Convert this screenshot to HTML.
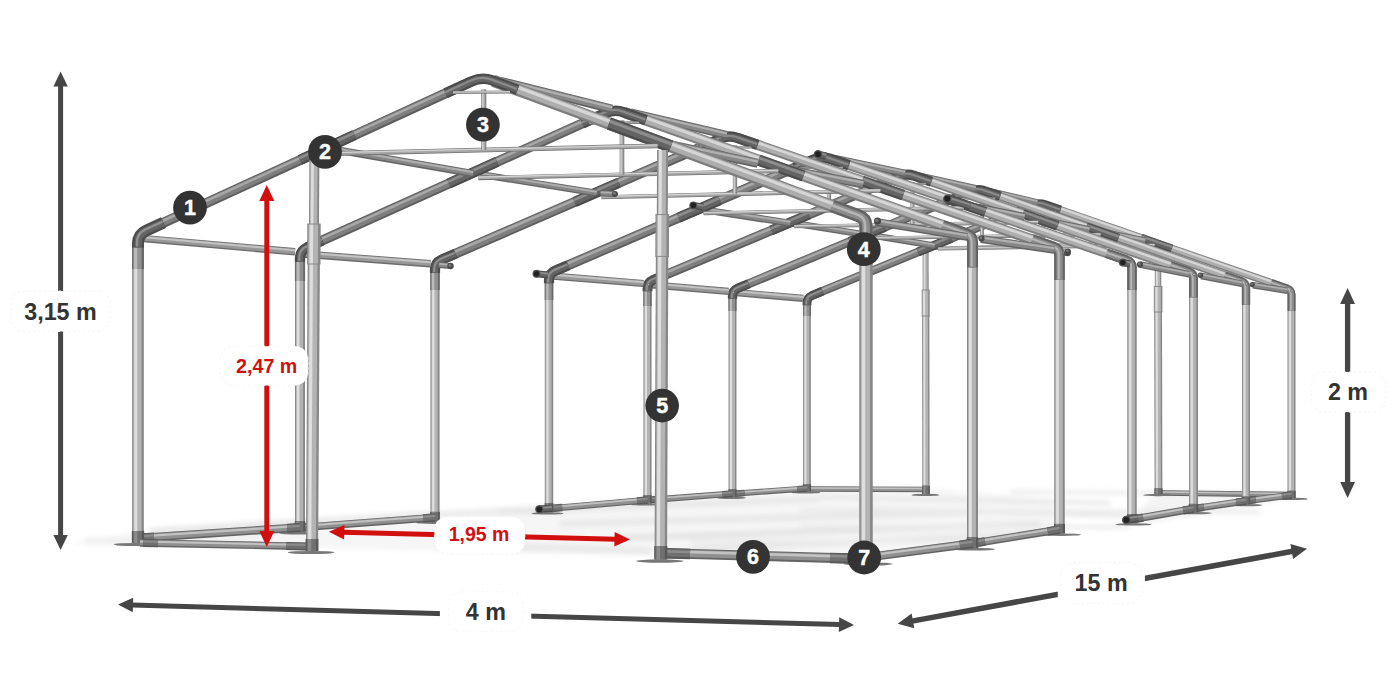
<!DOCTYPE html>
<html lang="pl"><head><meta charset="utf-8"><title>Namiot - wymiary</title>
<style>
html,body{margin:0;padding:0;background:#ffffff;}
body{width:1400px;height:700px;overflow:hidden;}
svg{display:block;font-family:"Liberation Sans",sans-serif;font-weight:700;}
</style></head><body>
<svg width="1400" height="700" viewBox="0 0 1400 700">
<defs><filter id="blur" x="-5%" y="-30%" width="110%" height="160%"><feGaussianBlur stdDeviation="2.5"/></filter></defs>
<rect width="1400" height="700" fill="#ffffff"/>
<g id="frame">
<g filter="url(#blur)">
<polygon points="70,544 138,532 435,512 560,503 806,486 930,488 1060,500 1062,526 870,556 655,556 320,548 140,547" fill="#f6f6f6"/>
<polygon points="1128,522 1158,492 1292,493 1296,498 1140,525" fill="#f4f4f4"/>
<line x1="85" y1="541" x2="260" y2="537" stroke="#efefef" stroke-width="6"/>
<line x1="150" y1="531" x2="440" y2="513" stroke="#e4e4e4" stroke-width="5"/>
<line x1="320" y1="520" x2="560" y2="508" stroke="#e9e9e9" stroke-width="5"/>
<line x1="500" y1="512" x2="820" y2="499" stroke="#e4e4e4" stroke-width="5"/>
<line x1="560" y1="524" x2="980" y2="512" stroke="#e6e6e6" stroke-width="6"/>
<line x1="620" y1="538" x2="1040" y2="524" stroke="#e3e3e3" stroke-width="6"/>
<line x1="690" y1="549" x2="1040" y2="534" stroke="#e6e6e6" stroke-width="6"/>
<line x1="820" y1="497" x2="1110" y2="503" stroke="#e6e6e6" stroke-width="4"/>
<line x1="860" y1="508" x2="1125" y2="516" stroke="#e8e8e8" stroke-width="4"/>
<line x1="480" y1="546" x2="650" y2="551" stroke="#e8e8e8" stroke-width="7"/>
<line x1="1010" y1="492" x2="1290" y2="494" stroke="#e6e6e6" stroke-width="3"/>
<line x1="800" y1="510" x2="1260" y2="512" stroke="#ebebeb" stroke-width="4"/>
<line x1="800" y1="526" x2="1130" y2="527" stroke="#ebebeb" stroke-width="4"/>
<line x1="690" y1="541" x2="960" y2="541" stroke="#ebebeb" stroke-width="4"/>
</g>
<line x1="810" y1="489" x2="924" y2="489.5" stroke="#636363" stroke-width="5.5" stroke-linecap="butt"/>
<line x1="810" y1="488.7" x2="924" y2="489.2" stroke="#909090" stroke-width="4" stroke-linecap="butt"/>
<line x1="810" y1="488" x2="924" y2="488.5" stroke="#c2c2c2" stroke-width="1.4" stroke-linecap="butt"/>
<line x1="1162" y1="493" x2="1290" y2="494.6" stroke="#636363" stroke-width="5.5" stroke-linecap="butt"/>
<line x1="1162" y1="492.7" x2="1290" y2="494.3" stroke="#909090" stroke-width="4" stroke-linecap="butt"/>
<line x1="1162" y1="492" x2="1290" y2="493.6" stroke="#c2c2c2" stroke-width="1.4" stroke-linecap="butt"/>
<line x1="925" y1="248.5" x2="1157" y2="242" stroke="#747474" stroke-width="3" stroke-linecap="butt"/>
<line x1="925" y1="248.4" x2="1157" y2="241.9" stroke="#a8a8a8" stroke-width="2.2" stroke-linecap="butt"/>
<line x1="925" y1="247.9" x2="1157" y2="241.4" stroke="#d4d4d4" stroke-width="0.8" stroke-linecap="butt"/>
<ellipse cx="925.4" cy="494.9" rx="13.9" ry="1.2" fill="#777"/>
<line x1="925.6" y1="247" x2="925.7" y2="291" stroke="#878787" stroke-width="6" stroke-linecap="butt"/>
<line x1="925.3" y1="247" x2="925.4" y2="291" stroke="#b3b3b3" stroke-width="4.3" stroke-linecap="butt"/>
<line x1="924.5" y1="247" x2="924.5" y2="291" stroke="#dedede" stroke-width="1.6" stroke-linecap="butt"/>
<line x1="925.7" y1="315" x2="926" y2="494" stroke="#878787" stroke-width="7.3" stroke-linecap="butt"/>
<line x1="925.3" y1="315" x2="925.6" y2="494" stroke="#b3b3b3" stroke-width="5.3" stroke-linecap="butt"/>
<line x1="924.3" y1="315" x2="924.6" y2="494" stroke="#dedede" stroke-width="1.9" stroke-linecap="butt"/>
<line x1="925.7" y1="290" x2="925.7" y2="316" stroke="#878787" stroke-width="8" stroke-linecap="butt"/>
<line x1="925.3" y1="290" x2="925.3" y2="316" stroke="#b3b3b3" stroke-width="5.8" stroke-linecap="butt"/>
<line x1="924.1" y1="290" x2="924.2" y2="316" stroke="#dedede" stroke-width="2.1" stroke-linecap="butt"/>
<line x1="921.7" y1="290" x2="929.7" y2="290" stroke="#8a8a8a" stroke-width="1"/>
<line x1="921.7" y1="316" x2="929.7" y2="316" stroke="#8a8a8a" stroke-width="1"/>
<line x1="926" y1="485.7" x2="926" y2="494" stroke="#585858" stroke-width="7.7" stroke-linecap="butt"/>
<line x1="925.6" y1="485.7" x2="925.6" y2="494" stroke="#707070" stroke-width="5.5" stroke-linecap="butt"/>
<line x1="924.5" y1="485.7" x2="924.5" y2="494" stroke="#8c8c8c" stroke-width="2" stroke-linecap="butt"/>
<ellipse cx="1157.8" cy="495" rx="14.8" ry="1.2" fill="#777"/>
<line x1="1158" y1="241" x2="1158.1" y2="287.5" stroke="#878787" stroke-width="6.5" stroke-linecap="butt"/>
<line x1="1157.7" y1="241" x2="1157.8" y2="287.5" stroke="#b3b3b3" stroke-width="4.7" stroke-linecap="butt"/>
<line x1="1156.8" y1="241" x2="1156.9" y2="287.5" stroke="#dedede" stroke-width="1.7" stroke-linecap="butt"/>
<line x1="1158.1" y1="311" x2="1158.5" y2="494" stroke="#878787" stroke-width="7.8" stroke-linecap="butt"/>
<line x1="1157.8" y1="311" x2="1158.1" y2="494" stroke="#b3b3b3" stroke-width="5.6" stroke-linecap="butt"/>
<line x1="1156.7" y1="311" x2="1157" y2="494" stroke="#dedede" stroke-width="2" stroke-linecap="butt"/>
<line x1="1158.1" y1="286.5" x2="1158.1" y2="312" stroke="#878787" stroke-width="8.6" stroke-linecap="butt"/>
<line x1="1157.7" y1="286.5" x2="1157.7" y2="312" stroke="#b3b3b3" stroke-width="6.2" stroke-linecap="butt"/>
<line x1="1156.5" y1="286.5" x2="1156.5" y2="312" stroke="#dedede" stroke-width="2.2" stroke-linecap="butt"/>
<line x1="1153.8" y1="286.5" x2="1162.4" y2="286.5" stroke="#8a8a8a" stroke-width="1"/>
<line x1="1153.8" y1="312" x2="1162.4" y2="312" stroke="#8a8a8a" stroke-width="1"/>
<line x1="1158.5" y1="488.4" x2="1158.5" y2="494" stroke="#585858" stroke-width="8.2" stroke-linecap="butt"/>
<line x1="1158.1" y1="488.4" x2="1158.1" y2="494" stroke="#707070" stroke-width="5.9" stroke-linecap="butt"/>
<line x1="1156.9" y1="488.4" x2="1156.9" y2="494" stroke="#8c8c8c" stroke-width="2.1" stroke-linecap="butt"/>
<ellipse cx="805.8" cy="492.4" rx="14.6" ry="1.2" fill="#777"/>
<ellipse cx="1292.7" cy="498.9" rx="15.2" ry="1.2" fill="#777"/>
<line x1="807" y1="301.1" x2="807" y2="491.5" stroke="#878787" stroke-width="7.7" stroke-linecap="butt"/>
<line x1="806.6" y1="301.1" x2="806.6" y2="491.5" stroke="#b3b3b3" stroke-width="5.5" stroke-linecap="butt"/>
<line x1="805.5" y1="301.1" x2="805.5" y2="491.5" stroke="#dedede" stroke-width="2" stroke-linecap="butt"/>
<line x1="807" y1="484.3" x2="807" y2="491.5" stroke="#585858" stroke-width="8.1" stroke-linecap="butt"/>
<line x1="806.6" y1="484.3" x2="806.6" y2="491.5" stroke="#707070" stroke-width="5.8" stroke-linecap="butt"/>
<line x1="805.5" y1="484.3" x2="805.5" y2="491.5" stroke="#8c8c8c" stroke-width="2.1" stroke-linecap="butt"/>
<line x1="1291.5" y1="293.6" x2="1291.5" y2="498" stroke="#878787" stroke-width="8" stroke-linecap="butt"/>
<line x1="1291.1" y1="293.6" x2="1291.1" y2="498" stroke="#b3b3b3" stroke-width="5.8" stroke-linecap="butt"/>
<line x1="1290" y1="293.6" x2="1290" y2="498" stroke="#dedede" stroke-width="2.1" stroke-linecap="butt"/>
<line x1="1291.5" y1="490.8" x2="1291.5" y2="498" stroke="#585858" stroke-width="8.4" stroke-linecap="butt"/>
<line x1="1291.1" y1="490.8" x2="1291.1" y2="498" stroke="#707070" stroke-width="6" stroke-linecap="butt"/>
<line x1="1289.9" y1="490.8" x2="1289.9" y2="498" stroke="#8c8c8c" stroke-width="2.2" stroke-linecap="butt"/>
<line x1="811.4" y1="295.7" x2="1032.3" y2="205.2" stroke="#5e5e5e" stroke-width="8.6" stroke-linecap="butt"/>
<line x1="811.3" y1="295.3" x2="1032.2" y2="204.8" stroke="#7f7f7f" stroke-width="6.2" stroke-linecap="butt"/>
<line x1="810.8" y1="294.2" x2="1031.7" y2="203.7" stroke="#a8a8a8" stroke-width="2.2" stroke-linecap="butt"/>
<line x1="1045.8" y1="204.9" x2="1287.5" y2="288.6" stroke="#7e7e7e" stroke-width="7.8" stroke-linecap="butt"/>
<line x1="1045.9" y1="204.5" x2="1287.7" y2="288.3" stroke="#adadad" stroke-width="5.6" stroke-linecap="butt"/>
<line x1="1046.3" y1="203.5" x2="1288" y2="287.2" stroke="#d6d6d6" stroke-width="2" stroke-linecap="butt"/>
<line x1="917.9" y1="252.1" x2="951.3" y2="238.4" stroke="#4b4b4b" stroke-width="8.9" stroke-linecap="butt"/>
<line x1="917.8" y1="251.7" x2="951.1" y2="238" stroke="#646464" stroke-width="6.4" stroke-linecap="butt"/>
<line x1="917.3" y1="250.5" x2="950.6" y2="236.9" stroke="#8c8c8c" stroke-width="2.3" stroke-linecap="butt"/>
<line x1="1141.2" y1="237.9" x2="1171.8" y2="248.5" stroke="#4b4b4b" stroke-width="8.1" stroke-linecap="butt"/>
<line x1="1141.3" y1="237.5" x2="1171.9" y2="248.1" stroke="#646464" stroke-width="5.8" stroke-linecap="butt"/>
<line x1="1141.7" y1="236.4" x2="1172.3" y2="247.1" stroke="#8c8c8c" stroke-width="2.1" stroke-linecap="butt"/>
<path d="M1016.8 211.6 L1032.9 205 Q1039 202.5 1045.2 204.7 L1060.5 210" fill="none" stroke="#4b4b4b" stroke-width="9" stroke-linejoin="round"/>
<path d="M1016.8 211.6 L1032.9 205 Q1039 202.5 1045.2 204.7 L1060.5 210" fill="none" stroke="#646464" stroke-width="5.4" stroke-linejoin="round"/>
<path d="M1016.8 211.6 L1032.9 205 Q1039 202.5 1045.2 204.7 L1060.5 210" fill="none" stroke="#8c8c8c" stroke-width="1.8" stroke-linejoin="round" transform="translate(-0.7,-0.7)"/>
<line x1="807" y1="302.3" x2="807" y2="316" stroke="#686868" stroke-width="7.9" stroke-linecap="butt"/>
<line x1="806.6" y1="302.3" x2="806.6" y2="316" stroke="#909090" stroke-width="5.7" stroke-linecap="butt"/>
<line x1="805.5" y1="302.3" x2="805.5" y2="316" stroke="#bababa" stroke-width="2" stroke-linecap="butt"/>
<path d="M807 305.3 L807 302.9 Q807 297.5 812 295.5 L822.5 291.1" fill="none" stroke="#4c4c4c" stroke-width="8.8" stroke-linejoin="round"/>
<path d="M807 305.3 L807 302.9 Q807 297.5 812 295.5 L822.5 291.1" fill="none" stroke="#646464" stroke-width="5.3" stroke-linejoin="round"/>
<path d="M807 305.3 L807 302.9 Q807 297.5 812 295.5 L822.5 291.1" fill="none" stroke="#909090" stroke-width="1.8" stroke-linejoin="round" transform="translate(-0.7,-0.7)"/>
<path d="M1291.5 311 L1291.5 294.5 Q1291.5 290 1287.2 288.5 L1271.1 282.9" fill="none" stroke="#646464" stroke-width="8" stroke-linejoin="round"/>
<path d="M1291.5 311 L1291.5 294.5 Q1291.5 290 1287.2 288.5 L1271.1 282.9" fill="none" stroke="#8c8c8c" stroke-width="4.8" stroke-linejoin="round"/>
<path d="M1291.5 311 L1291.5 294.5 Q1291.5 290 1287.2 288.5 L1271.1 282.9" fill="none" stroke="#b6b6b6" stroke-width="1.6" stroke-linejoin="round" transform="translate(-0.6,-0.6)"/>
<line x1="938.2" y1="248.8" x2="1154.6" y2="245.2" stroke="#747474" stroke-width="3.4" stroke-linecap="butt"/>
<line x1="938.2" y1="248.7" x2="1154.6" y2="245" stroke="#a8a8a8" stroke-width="2.5" stroke-linecap="butt"/>
<line x1="938.2" y1="248.2" x2="1154.6" y2="244.6" stroke="#d4d4d4" stroke-width="0.9" stroke-linecap="butt"/>
<line x1="1043" y1="210.3" x2="1043" y2="247.1" stroke="#747474" stroke-width="3.6" stroke-linecap="butt"/>
<line x1="1042.8" y1="210.3" x2="1042.8" y2="247.1" stroke="#a8a8a8" stroke-width="2.6" stroke-linecap="butt"/>
<line x1="1042.3" y1="210.3" x2="1042.3" y2="247.1" stroke="#d4d4d4" stroke-width="0.9" stroke-linecap="butt"/>
<line x1="1021.6" y1="212.1" x2="1055.8" y2="211.8" stroke="#747474" stroke-width="1.8" stroke-linecap="butt"/>
<line x1="1021.6" y1="212.1" x2="1055.8" y2="211.8" stroke="#a8a8a8" stroke-width="1" stroke-linecap="butt"/>
<line x1="736.5" y1="292.7" x2="803.1" y2="298.4" stroke="#6c6c6c" stroke-width="7.2" stroke-linecap="butt"/>
<line x1="736.5" y1="292.3" x2="803.2" y2="298" stroke="#989898" stroke-width="5.2" stroke-linecap="butt"/>
<line x1="736.6" y1="291.3" x2="803.3" y2="297" stroke="#c4c4c4" stroke-width="1.9" stroke-linecap="butt"/>
<line x1="1253" y1="285.2" x2="1287.5" y2="290.7" stroke="#646464" stroke-width="6.6" stroke-linecap="butt"/>
<line x1="1253.1" y1="284.9" x2="1287.6" y2="290.4" stroke="#878787" stroke-width="4.8" stroke-linecap="butt"/>
<line x1="1253.2" y1="284" x2="1287.7" y2="289.5" stroke="#b0b0b0" stroke-width="1.7" stroke-linecap="butt"/>
<line x1="869.8" y1="235" x2="934.6" y2="245.8" stroke="#646464" stroke-width="6.5" stroke-linecap="butt"/>
<line x1="869.8" y1="234.7" x2="934.7" y2="245.5" stroke="#878787" stroke-width="4.7" stroke-linecap="butt"/>
<line x1="870" y1="233.8" x2="934.8" y2="244.6" stroke="#b0b0b0" stroke-width="1.7" stroke-linecap="butt"/>
<line x1="1103" y1="232.7" x2="1145.2" y2="241" stroke="#646464" stroke-width="7.3" stroke-linecap="butt"/>
<line x1="1103.1" y1="232.3" x2="1145.2" y2="240.7" stroke="#878787" stroke-width="5.3" stroke-linecap="butt"/>
<line x1="1103.3" y1="231.3" x2="1145.4" y2="239.7" stroke="#b0b0b0" stroke-width="1.9" stroke-linecap="butt"/>
<line x1="986.1" y1="190.5" x2="1037.2" y2="202.5" stroke="#646464" stroke-width="6.9" stroke-linecap="butt"/>
<line x1="986.2" y1="190.1" x2="1037.3" y2="202.2" stroke="#878787" stroke-width="5" stroke-linecap="butt"/>
<line x1="986.4" y1="189.2" x2="1037.5" y2="201.2" stroke="#b0b0b0" stroke-width="1.8" stroke-linecap="butt"/>
<line x1="734.5" y1="493.7" x2="807" y2="488.5" stroke="#636363" stroke-width="6" stroke-linecap="butt"/>
<line x1="734.5" y1="493.4" x2="807" y2="488.2" stroke="#909090" stroke-width="4.3" stroke-linecap="butt"/>
<line x1="734.4" y1="492.6" x2="806.9" y2="487.4" stroke="#c2c2c2" stroke-width="1.6" stroke-linecap="butt"/>
<line x1="734.5" y1="493.7" x2="744.4" y2="493" stroke="#585858" stroke-width="6.5" stroke-linecap="butt"/>
<line x1="734.5" y1="493.4" x2="744.4" y2="492.7" stroke="#707070" stroke-width="4.7" stroke-linecap="butt"/>
<line x1="734.4" y1="492.5" x2="744.3" y2="491.8" stroke="#8c8c8c" stroke-width="1.7" stroke-linecap="butt"/>
<line x1="797.4" y1="489.2" x2="807" y2="488.5" stroke="#585858" stroke-width="6.5" stroke-linecap="butt"/>
<line x1="797.4" y1="488.9" x2="807" y2="488.2" stroke="#707070" stroke-width="4.7" stroke-linecap="butt"/>
<line x1="797.3" y1="488" x2="806.9" y2="487.3" stroke="#8c8c8c" stroke-width="1.7" stroke-linecap="butt"/>
<line x1="1246" y1="501" x2="1291.5" y2="495" stroke="#636363" stroke-width="6.8" stroke-linecap="butt"/>
<line x1="1246" y1="500.7" x2="1291.5" y2="494.7" stroke="#909090" stroke-width="4.9" stroke-linecap="butt"/>
<line x1="1245.8" y1="499.7" x2="1291.3" y2="493.7" stroke="#c2c2c2" stroke-width="1.8" stroke-linecap="butt"/>
<line x1="1246" y1="501" x2="1255.8" y2="499.7" stroke="#585858" stroke-width="7.4" stroke-linecap="butt"/>
<line x1="1246" y1="500.6" x2="1255.8" y2="499.3" stroke="#707070" stroke-width="5.3" stroke-linecap="butt"/>
<line x1="1245.8" y1="499.6" x2="1255.7" y2="498.3" stroke="#8c8c8c" stroke-width="1.9" stroke-linecap="butt"/>
<line x1="1282" y1="496.3" x2="1291.5" y2="495" stroke="#585858" stroke-width="7.4" stroke-linecap="butt"/>
<line x1="1281.9" y1="495.9" x2="1291.5" y2="494.6" stroke="#707070" stroke-width="5.3" stroke-linecap="butt"/>
<line x1="1281.8" y1="494.9" x2="1291.3" y2="493.6" stroke="#8c8c8c" stroke-width="1.9" stroke-linecap="butt"/>
<circle cx="1292" cy="290.9" r="1.3" fill="#b9b9b9" stroke="#555" stroke-width="0.6"/>
<circle cx="808" cy="299.3" r="1" fill="#b9b9b9" stroke="#555" stroke-width="0.6"/>
<ellipse cx="731.2" cy="497.8" rx="15" ry="1.2" fill="#777"/>
<ellipse cx="1247.3" cy="505.1" rx="15.2" ry="1.2" fill="#777"/>
<line x1="732.5" y1="294.3" x2="732.5" y2="496.8" stroke="#878787" stroke-width="7.9" stroke-linecap="butt"/>
<line x1="732.1" y1="294.3" x2="732.1" y2="496.8" stroke="#b3b3b3" stroke-width="5.7" stroke-linecap="butt"/>
<line x1="731" y1="294.3" x2="731" y2="496.8" stroke="#dedede" stroke-width="2.1" stroke-linecap="butt"/>
<line x1="732.5" y1="489.3" x2="732.5" y2="496.8" stroke="#585858" stroke-width="8.3" stroke-linecap="butt"/>
<line x1="732.1" y1="489.3" x2="732.1" y2="496.8" stroke="#707070" stroke-width="6" stroke-linecap="butt"/>
<line x1="730.9" y1="489.3" x2="730.9" y2="496.8" stroke="#8c8c8c" stroke-width="2.2" stroke-linecap="butt"/>
<line x1="1246" y1="286.8" x2="1246" y2="504.1" stroke="#878787" stroke-width="8" stroke-linecap="butt"/>
<line x1="1245.6" y1="286.8" x2="1245.6" y2="504.1" stroke="#b3b3b3" stroke-width="5.8" stroke-linecap="butt"/>
<line x1="1244.5" y1="286.8" x2="1244.5" y2="504.1" stroke="#dedede" stroke-width="2.1" stroke-linecap="butt"/>
<line x1="1246" y1="496.6" x2="1246" y2="504.1" stroke="#585858" stroke-width="8.4" stroke-linecap="butt"/>
<line x1="1245.6" y1="496.6" x2="1245.6" y2="504.1" stroke="#707070" stroke-width="6" stroke-linecap="butt"/>
<line x1="1244.4" y1="496.6" x2="1244.4" y2="504.1" stroke="#8c8c8c" stroke-width="2.2" stroke-linecap="butt"/>
<line x1="737.2" y1="288.6" x2="970.5" y2="191.4" stroke="#5e5e5e" stroke-width="9.1" stroke-linecap="butt"/>
<line x1="737" y1="288.1" x2="970.3" y2="191" stroke="#7f7f7f" stroke-width="6.6" stroke-linecap="butt"/>
<line x1="736.5" y1="287" x2="969.9" y2="189.8" stroke="#a8a8a8" stroke-width="2.4" stroke-linecap="butt"/>
<line x1="984.6" y1="191" x2="1241.8" y2="281.5" stroke="#7e7e7e" stroke-width="8.4" stroke-linecap="butt"/>
<line x1="984.8" y1="190.6" x2="1242" y2="281.1" stroke="#adadad" stroke-width="6" stroke-linecap="butt"/>
<line x1="985.2" y1="189.5" x2="1242.4" y2="280" stroke="#d6d6d6" stroke-width="2.2" stroke-linecap="butt"/>
<line x1="849.8" y1="241.7" x2="884.7" y2="227.1" stroke="#4b4b4b" stroke-width="9.5" stroke-linecap="butt"/>
<line x1="849.6" y1="241.2" x2="884.5" y2="226.7" stroke="#646464" stroke-width="6.8" stroke-linecap="butt"/>
<line x1="849.1" y1="240" x2="884" y2="225.5" stroke="#8c8c8c" stroke-width="2.5" stroke-linecap="butt"/>
<line x1="1086.4" y1="226.8" x2="1118.5" y2="238.1" stroke="#4b4b4b" stroke-width="8.7" stroke-linecap="butt"/>
<line x1="1086.5" y1="226.4" x2="1118.6" y2="237.7" stroke="#646464" stroke-width="6.3" stroke-linecap="butt"/>
<line x1="1086.9" y1="225.3" x2="1119" y2="236.6" stroke="#8c8c8c" stroke-width="2.3" stroke-linecap="butt"/>
<path d="M954.2 198.2 L971.1 191.2 Q977.5 188.5 984 190.8 L1000.1 196.4" fill="none" stroke="#4b4b4b" stroke-width="9.6" stroke-linejoin="round"/>
<path d="M954.2 198.2 L971.1 191.2 Q977.5 188.5 984 190.8 L1000.1 196.4" fill="none" stroke="#646464" stroke-width="5.7" stroke-linejoin="round"/>
<path d="M954.2 198.2 L971.1 191.2 Q977.5 188.5 984 190.8 L1000.1 196.4" fill="none" stroke="#8c8c8c" stroke-width="1.9" stroke-linejoin="round" transform="translate(-0.8,-0.8)"/>
<line x1="732.5" y1="295.5" x2="732.5" y2="311" stroke="#686868" stroke-width="8.1" stroke-linecap="butt"/>
<line x1="732.1" y1="295.5" x2="732.1" y2="311" stroke="#909090" stroke-width="5.8" stroke-linecap="butt"/>
<line x1="731" y1="295.5" x2="731" y2="311" stroke="#bababa" stroke-width="2.1" stroke-linecap="butt"/>
<path d="M732.5 298.7 L732.5 296.2 Q732.5 290.5 737.7 288.3 L748.8 283.7" fill="none" stroke="#4c4c4c" stroke-width="9.3" stroke-linejoin="round"/>
<path d="M732.5 298.7 L732.5 296.2 Q732.5 290.5 737.7 288.3 L748.8 283.7" fill="none" stroke="#646464" stroke-width="5.6" stroke-linejoin="round"/>
<path d="M732.5 298.7 L732.5 296.2 Q732.5 290.5 737.7 288.3 L748.8 283.7" fill="none" stroke="#909090" stroke-width="1.9" stroke-linejoin="round" transform="translate(-0.7,-0.7)"/>
<path d="M1246 305 L1246 287.7 Q1246 283 1241.5 281.4 L1224.6 275.5" fill="none" stroke="#646464" stroke-width="8.4" stroke-linejoin="round"/>
<path d="M1246 305 L1246 287.7 Q1246 283 1241.5 281.4 L1224.6 275.5" fill="none" stroke="#8c8c8c" stroke-width="5" stroke-linejoin="round"/>
<path d="M1246 305 L1246 287.7 Q1246 283 1241.5 281.4 L1224.6 275.5" fill="none" stroke="#b6b6b6" stroke-width="1.7" stroke-linejoin="round" transform="translate(-0.7,-0.7)"/>
<line x1="871" y1="238.2" x2="1100.5" y2="234.6" stroke="#747474" stroke-width="3.5" stroke-linecap="butt"/>
<line x1="871" y1="238" x2="1100.5" y2="234.4" stroke="#a8a8a8" stroke-width="2.5" stroke-linecap="butt"/>
<line x1="871" y1="237.5" x2="1100.5" y2="233.9" stroke="#d4d4d4" stroke-width="0.9" stroke-linecap="butt"/>
<line x1="982" y1="196.7" x2="982" y2="236.4" stroke="#747474" stroke-width="3.7" stroke-linecap="butt"/>
<line x1="981.8" y1="196.7" x2="981.8" y2="236.4" stroke="#a8a8a8" stroke-width="2.7" stroke-linecap="butt"/>
<line x1="981.3" y1="196.7" x2="981.3" y2="236.4" stroke="#d4d4d4" stroke-width="1" stroke-linecap="butt"/>
<line x1="959.2" y1="198.6" x2="995.1" y2="198.3" stroke="#747474" stroke-width="1.9" stroke-linecap="butt"/>
<line x1="959.2" y1="198.6" x2="995.1" y2="198.3" stroke="#a8a8a8" stroke-width="1" stroke-linecap="butt"/>
<line x1="651.5" y1="284.9" x2="728.5" y2="291.4" stroke="#6c6c6c" stroke-width="7.2" stroke-linecap="butt"/>
<line x1="651.6" y1="284.5" x2="728.6" y2="291.1" stroke="#989898" stroke-width="5.2" stroke-linecap="butt"/>
<line x1="651.7" y1="283.5" x2="728.7" y2="290.1" stroke="#c4c4c4" stroke-width="1.9" stroke-linecap="butt"/>
<line x1="1201" y1="275.9" x2="1242" y2="283.8" stroke="#646464" stroke-width="6.6" stroke-linecap="butt"/>
<line x1="1201.1" y1="275.6" x2="1242.1" y2="283.4" stroke="#878787" stroke-width="4.8" stroke-linecap="butt"/>
<line x1="1201.2" y1="274.6" x2="1242.2" y2="282.5" stroke="#b0b0b0" stroke-width="1.7" stroke-linecap="butt"/>
<line x1="792.9" y1="223.1" x2="867.2" y2="235" stroke="#646464" stroke-width="6.7" stroke-linecap="butt"/>
<line x1="793" y1="222.8" x2="867.3" y2="234.7" stroke="#878787" stroke-width="4.8" stroke-linecap="butt"/>
<line x1="793.1" y1="221.9" x2="867.5" y2="233.8" stroke="#b0b0b0" stroke-width="1.7" stroke-linecap="butt"/>
<line x1="1040.9" y1="220.1" x2="1089.4" y2="229.9" stroke="#646464" stroke-width="7.5" stroke-linecap="butt"/>
<line x1="1041" y1="219.8" x2="1089.4" y2="229.6" stroke="#878787" stroke-width="5.4" stroke-linecap="butt"/>
<line x1="1041.2" y1="218.7" x2="1089.6" y2="228.5" stroke="#b0b0b0" stroke-width="2" stroke-linecap="butt"/>
<line x1="916.9" y1="175.4" x2="975.6" y2="188.5" stroke="#646464" stroke-width="7.1" stroke-linecap="butt"/>
<line x1="916.9" y1="175.1" x2="975.7" y2="188.2" stroke="#878787" stroke-width="5.1" stroke-linecap="butt"/>
<line x1="917.2" y1="174.1" x2="975.9" y2="187.2" stroke="#b0b0b0" stroke-width="1.8" stroke-linecap="butt"/>
<line x1="649.5" y1="500" x2="732.5" y2="493.7" stroke="#636363" stroke-width="6.3" stroke-linecap="butt"/>
<line x1="649.5" y1="499.7" x2="732.5" y2="493.4" stroke="#909090" stroke-width="4.5" stroke-linecap="butt"/>
<line x1="649.4" y1="498.8" x2="732.4" y2="492.5" stroke="#c2c2c2" stroke-width="1.6" stroke-linecap="butt"/>
<line x1="649.5" y1="500" x2="659.9" y2="499.2" stroke="#585858" stroke-width="6.8" stroke-linecap="butt"/>
<line x1="649.5" y1="499.7" x2="659.9" y2="498.9" stroke="#707070" stroke-width="4.9" stroke-linecap="butt"/>
<line x1="649.4" y1="498.7" x2="659.9" y2="497.9" stroke="#8c8c8c" stroke-width="1.8" stroke-linecap="butt"/>
<line x1="722.6" y1="494.5" x2="732.5" y2="493.7" stroke="#585858" stroke-width="6.8" stroke-linecap="butt"/>
<line x1="722.6" y1="494.1" x2="732.5" y2="493.4" stroke="#707070" stroke-width="4.9" stroke-linecap="butt"/>
<line x1="722.5" y1="493.2" x2="732.4" y2="492.4" stroke="#8c8c8c" stroke-width="1.8" stroke-linecap="butt"/>
<line x1="1193.5" y1="508.7" x2="1246" y2="501" stroke="#636363" stroke-width="7.1" stroke-linecap="butt"/>
<line x1="1193.4" y1="508.3" x2="1245.9" y2="500.6" stroke="#909090" stroke-width="5.1" stroke-linecap="butt"/>
<line x1="1193.3" y1="507.4" x2="1245.8" y2="499.7" stroke="#c2c2c2" stroke-width="1.8" stroke-linecap="butt"/>
<line x1="1193.5" y1="508.7" x2="1203.9" y2="507.2" stroke="#585858" stroke-width="7.7" stroke-linecap="butt"/>
<line x1="1193.4" y1="508.3" x2="1203.8" y2="506.8" stroke="#707070" stroke-width="5.5" stroke-linecap="butt"/>
<line x1="1193.3" y1="507.3" x2="1203.7" y2="505.7" stroke="#8c8c8c" stroke-width="2" stroke-linecap="butt"/>
<line x1="1236.2" y1="502.4" x2="1246" y2="501" stroke="#585858" stroke-width="7.7" stroke-linecap="butt"/>
<line x1="1236.1" y1="502.1" x2="1245.9" y2="500.6" stroke="#707070" stroke-width="5.5" stroke-linecap="butt"/>
<line x1="1236" y1="501" x2="1245.8" y2="499.6" stroke="#8c8c8c" stroke-width="2" stroke-linecap="butt"/>
<circle cx="1252.2" cy="284.6" r="2.6" fill="#4a4a4a"/>
<circle cx="1251.7" cy="284.1" r="1.2" fill="#7a7a7a"/>
<circle cx="1246.5" cy="283.9" r="1.3" fill="#b9b9b9" stroke="#555" stroke-width="0.6"/>
<circle cx="733.5" cy="292.4" r="1.1" fill="#b9b9b9" stroke="#555" stroke-width="0.6"/>
<ellipse cx="646.1" cy="504.4" rx="15.4" ry="1.2" fill="#777"/>
<ellipse cx="1194.9" cy="513.1" rx="17.1" ry="1.2" fill="#777"/>
<line x1="647.5" y1="286.6" x2="647.5" y2="503.4" stroke="#878787" stroke-width="8.1" stroke-linecap="butt"/>
<line x1="647.1" y1="286.6" x2="647.1" y2="503.4" stroke="#b3b3b3" stroke-width="5.8" stroke-linecap="butt"/>
<line x1="646" y1="286.6" x2="646" y2="503.4" stroke="#dedede" stroke-width="2.1" stroke-linecap="butt"/>
<line x1="647.5" y1="495.2" x2="647.5" y2="503.4" stroke="#585858" stroke-width="8.5" stroke-linecap="butt"/>
<line x1="647.1" y1="495.2" x2="647.1" y2="503.4" stroke="#707070" stroke-width="6.1" stroke-linecap="butt"/>
<line x1="645.9" y1="495.2" x2="645.9" y2="503.4" stroke="#8c8c8c" stroke-width="2.2" stroke-linecap="butt"/>
<line x1="1193.5" y1="277.6" x2="1193.5" y2="512.1" stroke="#878787" stroke-width="9" stroke-linecap="butt"/>
<line x1="1193" y1="277.6" x2="1193" y2="512.1" stroke="#b3b3b3" stroke-width="6.5" stroke-linecap="butt"/>
<line x1="1191.8" y1="277.6" x2="1191.8" y2="512.1" stroke="#dedede" stroke-width="2.3" stroke-linecap="butt"/>
<line x1="1193.5" y1="503.9" x2="1193.5" y2="512.1" stroke="#585858" stroke-width="9.5" stroke-linecap="butt"/>
<line x1="1193" y1="503.9" x2="1193" y2="512.1" stroke="#707070" stroke-width="6.8" stroke-linecap="butt"/>
<line x1="1191.7" y1="503.9" x2="1191.7" y2="512.1" stroke="#8c8c8c" stroke-width="2.5" stroke-linecap="butt"/>
<line x1="652.5" y1="280.4" x2="899.5" y2="176.5" stroke="#5e5e5e" stroke-width="9.6" stroke-linecap="butt"/>
<line x1="652.3" y1="279.9" x2="899.3" y2="176" stroke="#7f7f7f" stroke-width="6.9" stroke-linecap="butt"/>
<line x1="651.8" y1="278.7" x2="898.8" y2="174.8" stroke="#a8a8a8" stroke-width="2.5" stroke-linecap="butt"/>
<line x1="914.7" y1="176" x2="1189" y2="271.9" stroke="#7e7e7e" stroke-width="9" stroke-linecap="butt"/>
<line x1="914.9" y1="175.6" x2="1189.2" y2="271.5" stroke="#adadad" stroke-width="6.5" stroke-linecap="butt"/>
<line x1="915.3" y1="174.4" x2="1189.6" y2="270.3" stroke="#d6d6d6" stroke-width="2.3" stroke-linecap="butt"/>
<line x1="771.4" y1="230.4" x2="809" y2="214.5" stroke="#4b4b4b" stroke-width="10" stroke-linecap="butt"/>
<line x1="771.2" y1="229.9" x2="808.8" y2="214.1" stroke="#646464" stroke-width="7.2" stroke-linecap="butt"/>
<line x1="770.7" y1="228.6" x2="808.3" y2="212.8" stroke="#8c8c8c" stroke-width="2.6" stroke-linecap="butt"/>
<line x1="1023" y1="213.9" x2="1057.6" y2="226" stroke="#4b4b4b" stroke-width="9.4" stroke-linecap="butt"/>
<line x1="1023.1" y1="213.4" x2="1057.8" y2="225.5" stroke="#646464" stroke-width="6.7" stroke-linecap="butt"/>
<line x1="1023.6" y1="212.2" x2="1058.2" y2="224.3" stroke="#8c8c8c" stroke-width="2.4" stroke-linecap="butt"/>
<path d="M881.9 183.8 L900.1 176.2 Q907 173.3 914.1 175.8 L931.4 181.8" fill="none" stroke="#4b4b4b" stroke-width="10.1" stroke-linejoin="round"/>
<path d="M881.9 183.8 L900.1 176.2 Q907 173.3 914.1 175.8 L931.4 181.8" fill="none" stroke="#646464" stroke-width="6" stroke-linejoin="round"/>
<path d="M881.9 183.8 L900.1 176.2 Q907 173.3 914.1 175.8 L931.4 181.8" fill="none" stroke="#8c8c8c" stroke-width="2" stroke-linejoin="round" transform="translate(-0.8,-0.8)"/>
<line x1="647.5" y1="287.9" x2="647.5" y2="306" stroke="#686868" stroke-width="8.3" stroke-linecap="butt"/>
<line x1="647.1" y1="287.9" x2="647.1" y2="306" stroke="#909090" stroke-width="5.9" stroke-linecap="butt"/>
<line x1="645.9" y1="287.9" x2="645.9" y2="306" stroke="#bababa" stroke-width="2.1" stroke-linecap="butt"/>
<path d="M647.5 291.3 L647.5 288.6 Q647.5 282.5 653.1 280.1 L665 275.1" fill="none" stroke="#4c4c4c" stroke-width="9.8" stroke-linejoin="round"/>
<path d="M647.5 291.3 L647.5 288.6 Q647.5 282.5 653.1 280.1 L665 275.1" fill="none" stroke="#646464" stroke-width="5.9" stroke-linejoin="round"/>
<path d="M647.5 291.3 L647.5 288.6 Q647.5 282.5 653.1 280.1 L665 275.1" fill="none" stroke="#909090" stroke-width="2" stroke-linejoin="round" transform="translate(-0.8,-0.8)"/>
<path d="M1193.5 297.5 L1193.5 278.6 Q1193.5 273.5 1188.7 271.8 L1170.4 265.4" fill="none" stroke="#646464" stroke-width="9" stroke-linejoin="round"/>
<path d="M1193.5 297.5 L1193.5 278.6 Q1193.5 273.5 1188.7 271.8 L1170.4 265.4" fill="none" stroke="#8c8c8c" stroke-width="5.4" stroke-linejoin="round"/>
<path d="M1193.5 297.5 L1193.5 278.6 Q1193.5 273.5 1188.7 271.8 L1170.4 265.4" fill="none" stroke="#b6b6b6" stroke-width="1.8" stroke-linejoin="round" transform="translate(-0.7,-0.7)"/>
<line x1="794.3" y1="226.5" x2="1038.2" y2="222.2" stroke="#747474" stroke-width="3.7" stroke-linecap="butt"/>
<line x1="794.3" y1="226.3" x2="1038.2" y2="222" stroke="#a8a8a8" stroke-width="2.6" stroke-linecap="butt"/>
<line x1="794.3" y1="225.8" x2="1038.2" y2="221.5" stroke="#d4d4d4" stroke-width="1" stroke-linecap="butt"/>
<line x1="912.5" y1="182.1" x2="912.5" y2="224.4" stroke="#747474" stroke-width="3.9" stroke-linecap="butt"/>
<line x1="912.3" y1="182.1" x2="912.3" y2="224.4" stroke="#a8a8a8" stroke-width="2.8" stroke-linecap="butt"/>
<line x1="911.8" y1="182.1" x2="911.8" y2="224.4" stroke="#d4d4d4" stroke-width="1" stroke-linecap="butt"/>
<line x1="887.3" y1="184.2" x2="926" y2="183.8" stroke="#747474" stroke-width="2" stroke-linecap="butt"/>
<line x1="887.3" y1="184.2" x2="926" y2="183.8" stroke="#a8a8a8" stroke-width="1.1" stroke-linecap="butt"/>
<line x1="553.2" y1="276.1" x2="643.5" y2="283.5" stroke="#6c6c6c" stroke-width="7.2" stroke-linecap="butt"/>
<line x1="553.2" y1="275.8" x2="643.5" y2="283.2" stroke="#989898" stroke-width="5.2" stroke-linecap="butt"/>
<line x1="553.3" y1="274.8" x2="643.6" y2="282.2" stroke="#c4c4c4" stroke-width="1.9" stroke-linecap="butt"/>
<line x1="1139.8" y1="264.6" x2="1189" y2="274.3" stroke="#646464" stroke-width="6.6" stroke-linecap="butt"/>
<line x1="1139.8" y1="264.3" x2="1189.1" y2="274" stroke="#878787" stroke-width="4.8" stroke-linecap="butt"/>
<line x1="1140" y1="263.4" x2="1189.2" y2="273.1" stroke="#b0b0b0" stroke-width="1.7" stroke-linecap="butt"/>
<line x1="702.1" y1="209.6" x2="790.2" y2="223.1" stroke="#646464" stroke-width="7" stroke-linecap="butt"/>
<line x1="702.2" y1="209.3" x2="790.3" y2="222.8" stroke="#878787" stroke-width="5" stroke-linecap="butt"/>
<line x1="702.4" y1="208.3" x2="790.4" y2="221.8" stroke="#b0b0b0" stroke-width="1.8" stroke-linecap="butt"/>
<line x1="966.9" y1="205.6" x2="1024.7" y2="216.9" stroke="#646464" stroke-width="7.8" stroke-linecap="butt"/>
<line x1="967" y1="205.2" x2="1024.7" y2="216.6" stroke="#878787" stroke-width="5.6" stroke-linecap="butt"/>
<line x1="967.2" y1="204.1" x2="1024.9" y2="215.5" stroke="#b0b0b0" stroke-width="2" stroke-linecap="butt"/>
<line x1="833.9" y1="158.4" x2="905" y2="173.3" stroke="#646464" stroke-width="7.4" stroke-linecap="butt"/>
<line x1="834" y1="158.1" x2="905" y2="172.9" stroke="#878787" stroke-width="5.3" stroke-linecap="butt"/>
<line x1="834.2" y1="157" x2="905.2" y2="171.9" stroke="#b0b0b0" stroke-width="1.9" stroke-linecap="butt"/>
<line x1="551" y1="508.5" x2="647.5" y2="500" stroke="#636363" stroke-width="6.7" stroke-linecap="butt"/>
<line x1="551" y1="508.2" x2="647.5" y2="499.7" stroke="#909090" stroke-width="4.9" stroke-linecap="butt"/>
<line x1="550.9" y1="507.2" x2="647.4" y2="498.7" stroke="#c2c2c2" stroke-width="1.8" stroke-linecap="butt"/>
<line x1="551" y1="508.5" x2="562.2" y2="507.5" stroke="#585858" stroke-width="7.3" stroke-linecap="butt"/>
<line x1="551" y1="508.1" x2="562.2" y2="507.1" stroke="#707070" stroke-width="5.2" stroke-linecap="butt"/>
<line x1="550.9" y1="507.1" x2="562.1" y2="506.1" stroke="#8c8c8c" stroke-width="1.9" stroke-linecap="butt"/>
<line x1="637.1" y1="500.9" x2="647.5" y2="500" stroke="#585858" stroke-width="7.3" stroke-linecap="butt"/>
<line x1="637" y1="500.6" x2="647.5" y2="499.6" stroke="#707070" stroke-width="5.2" stroke-linecap="butt"/>
<line x1="636.9" y1="499.5" x2="647.4" y2="498.6" stroke="#8c8c8c" stroke-width="1.9" stroke-linecap="butt"/>
<line x1="1132" y1="519.5" x2="1193.5" y2="508.7" stroke="#636363" stroke-width="7.6" stroke-linecap="butt"/>
<line x1="1131.9" y1="519.1" x2="1193.4" y2="508.3" stroke="#909090" stroke-width="5.4" stroke-linecap="butt"/>
<line x1="1131.8" y1="518.1" x2="1193.3" y2="507.3" stroke="#c2c2c2" stroke-width="2" stroke-linecap="butt"/>
<line x1="1132" y1="519.5" x2="1143.1" y2="517.6" stroke="#585858" stroke-width="8.2" stroke-linecap="butt"/>
<line x1="1131.9" y1="519.1" x2="1143" y2="517.2" stroke="#707070" stroke-width="5.9" stroke-linecap="butt"/>
<line x1="1131.7" y1="518" x2="1142.8" y2="516" stroke="#8c8c8c" stroke-width="2.1" stroke-linecap="butt"/>
<line x1="1183.2" y1="510.5" x2="1193.5" y2="508.7" stroke="#585858" stroke-width="8.2" stroke-linecap="butt"/>
<line x1="1183.1" y1="510.1" x2="1193.4" y2="508.3" stroke="#707070" stroke-width="5.9" stroke-linecap="butt"/>
<line x1="1182.9" y1="509" x2="1193.2" y2="507.2" stroke="#8c8c8c" stroke-width="2.1" stroke-linecap="butt"/>
<circle cx="1200.4" cy="275.2" r="2.7" fill="#4a4a4a"/>
<circle cx="1199.8" cy="274.7" r="1.2" fill="#7a7a7a"/>
<circle cx="1194" cy="274.5" r="1.4" fill="#b9b9b9" stroke="#555" stroke-width="0.6"/>
<circle cx="648.5" cy="284.5" r="1.1" fill="#b9b9b9" stroke="#555" stroke-width="0.6"/>
<ellipse cx="547.5" cy="513.4" rx="16" ry="1.2" fill="#777"/>
<ellipse cx="1133.5" cy="524.4" rx="18.1" ry="1.2" fill="#777"/>
<line x1="549" y1="278" x2="549" y2="512.2" stroke="#878787" stroke-width="8.4" stroke-linecap="butt"/>
<line x1="548.6" y1="278" x2="548.6" y2="512.2" stroke="#b3b3b3" stroke-width="6" stroke-linecap="butt"/>
<line x1="547.4" y1="278" x2="547.4" y2="512.2" stroke="#dedede" stroke-width="2.2" stroke-linecap="butt"/>
<line x1="549" y1="503.2" x2="549" y2="512.2" stroke="#585858" stroke-width="8.8" stroke-linecap="butt"/>
<line x1="548.6" y1="503.2" x2="548.6" y2="512.2" stroke="#707070" stroke-width="6.4" stroke-linecap="butt"/>
<line x1="547.3" y1="503.2" x2="547.3" y2="512.2" stroke="#8c8c8c" stroke-width="2.3" stroke-linecap="butt"/>
<line x1="1132" y1="266.5" x2="1132" y2="523.2" stroke="#878787" stroke-width="9.5" stroke-linecap="butt"/>
<line x1="1131.5" y1="266.5" x2="1131.5" y2="523.2" stroke="#b3b3b3" stroke-width="6.8" stroke-linecap="butt"/>
<line x1="1130.2" y1="266.5" x2="1130.2" y2="523.2" stroke="#dedede" stroke-width="2.5" stroke-linecap="butt"/>
<line x1="1132" y1="514.2" x2="1132" y2="523.2" stroke="#585858" stroke-width="10" stroke-linecap="butt"/>
<line x1="1131.5" y1="514.2" x2="1131.5" y2="523.2" stroke="#707070" stroke-width="7.2" stroke-linecap="butt"/>
<line x1="1130.1" y1="514.2" x2="1130.1" y2="523.2" stroke="#8c8c8c" stroke-width="2.6" stroke-linecap="butt"/>
<line x1="554.5" y1="271.1" x2="813.7" y2="159.6" stroke="#5e5e5e" stroke-width="10" stroke-linecap="butt"/>
<line x1="554.3" y1="270.7" x2="813.5" y2="159.1" stroke="#7f7f7f" stroke-width="7.2" stroke-linecap="butt"/>
<line x1="553.8" y1="269.4" x2="813" y2="157.8" stroke="#a8a8a8" stroke-width="2.6" stroke-linecap="butt"/>
<line x1="830.5" y1="158.9" x2="1127" y2="260.3" stroke="#7e7e7e" stroke-width="9.6" stroke-linecap="butt"/>
<line x1="830.7" y1="158.5" x2="1127.2" y2="259.8" stroke="#adadad" stroke-width="6.9" stroke-linecap="butt"/>
<line x1="831.1" y1="157.2" x2="1127.6" y2="258.6" stroke="#d6d6d6" stroke-width="2.5" stroke-linecap="butt"/>
<line x1="678.5" y1="217.8" x2="719.8" y2="200" stroke="#4b4b4b" stroke-width="10.4" stroke-linecap="butt"/>
<line x1="678.3" y1="217.3" x2="719.6" y2="199.5" stroke="#646464" stroke-width="7.5" stroke-linecap="butt"/>
<line x1="677.7" y1="216" x2="719" y2="198.2" stroke="#8c8c8c" stroke-width="2.7" stroke-linecap="butt"/>
<line x1="947.1" y1="198.8" x2="985.4" y2="211.9" stroke="#4b4b4b" stroke-width="10" stroke-linecap="butt"/>
<line x1="947.2" y1="198.3" x2="985.5" y2="211.4" stroke="#646464" stroke-width="7.2" stroke-linecap="butt"/>
<line x1="947.7" y1="197" x2="986" y2="210.1" stroke="#8c8c8c" stroke-width="2.6" stroke-linecap="butt"/>
<path d="M794.4 167.9 L814.4 159.3 Q822 156 829.8 158.7 L849 165.2" fill="none" stroke="#4b4b4b" stroke-width="10.5" stroke-linejoin="round"/>
<path d="M794.4 167.9 L814.4 159.3 Q822 156 829.8 158.7 L849 165.2" fill="none" stroke="#646464" stroke-width="6.3" stroke-linejoin="round"/>
<path d="M794.4 167.9 L814.4 159.3 Q822 156 829.8 158.7 L849 165.2" fill="none" stroke="#8c8c8c" stroke-width="2.1" stroke-linejoin="round" transform="translate(-0.8,-0.8)"/>
<line x1="549" y1="279.5" x2="549" y2="300" stroke="#686868" stroke-width="8.6" stroke-linecap="butt"/>
<line x1="548.6" y1="279.5" x2="548.6" y2="300" stroke="#909090" stroke-width="6.2" stroke-linecap="butt"/>
<line x1="547.4" y1="279.5" x2="547.4" y2="300" stroke="#bababa" stroke-width="2.2" stroke-linecap="butt"/>
<path d="M549 283.2 L549 280.2 Q549 273.5 555.2 270.8 L568.3 265.2" fill="none" stroke="#4c4c4c" stroke-width="10.2" stroke-linejoin="round"/>
<path d="M549 283.2 L549 280.2 Q549 273.5 555.2 270.8 L568.3 265.2" fill="none" stroke="#646464" stroke-width="6.1" stroke-linejoin="round"/>
<path d="M549 283.2 L549 280.2 Q549 273.5 555.2 270.8 L568.3 265.2" fill="none" stroke="#909090" stroke-width="2" stroke-linejoin="round" transform="translate(-0.8,-0.8)"/>
<path d="M1132 290 L1132 267.6 Q1132 262 1126.7 260.2 L1106.5 253.3" fill="none" stroke="#646464" stroke-width="9.6" stroke-linejoin="round"/>
<path d="M1132 290 L1132 267.6 Q1132 262 1126.7 260.2 L1106.5 253.3" fill="none" stroke="#8c8c8c" stroke-width="5.8" stroke-linejoin="round"/>
<path d="M1132 290 L1132 267.6 Q1132 262 1126.7 260.2 L1106.5 253.3" fill="none" stroke="#b6b6b6" stroke-width="1.9" stroke-linejoin="round" transform="translate(-0.8,-0.8)"/>
<line x1="703.6" y1="213.4" x2="963.9" y2="207.8" stroke="#747474" stroke-width="3.9" stroke-linecap="butt"/>
<line x1="703.6" y1="213.2" x2="963.9" y2="207.6" stroke="#a8a8a8" stroke-width="2.8" stroke-linecap="butt"/>
<line x1="703.6" y1="212.6" x2="963.9" y2="207.1" stroke="#d4d4d4" stroke-width="1" stroke-linecap="butt"/>
<line x1="829" y1="165.8" x2="829" y2="210.7" stroke="#747474" stroke-width="4.2" stroke-linecap="butt"/>
<line x1="828.8" y1="165.8" x2="828.8" y2="210.7" stroke="#a8a8a8" stroke-width="3" stroke-linecap="butt"/>
<line x1="828.2" y1="165.8" x2="828.2" y2="210.7" stroke="#d4d4d4" stroke-width="1.1" stroke-linecap="butt"/>
<line x1="800.2" y1="168" x2="843" y2="167.6" stroke="#747474" stroke-width="2.2" stroke-linecap="butt"/>
<line x1="800.2" y1="168" x2="843" y2="167.6" stroke="#a8a8a8" stroke-width="1.2" stroke-linecap="butt"/>
<line x1="818" y1="154.3" x2="826" y2="156.2" stroke="#4b4b4b" stroke-width="7.5" stroke-linecap="butt"/>
<line x1="818.1" y1="153.9" x2="826.1" y2="155.8" stroke="#646464" stroke-width="5.4" stroke-linecap="butt"/>
<line x1="818.3" y1="152.9" x2="826.3" y2="154.8" stroke="#8c8c8c" stroke-width="2" stroke-linecap="butt"/>
<circle cx="818" cy="154.3" r="3.6" fill="#222"/>
<circle cx="818" cy="154.3" r="3.6" fill="none" stroke="#555" stroke-width="1.3"/>
<line x1="693" y1="205.4" x2="703" y2="207" stroke="#4b4b4b" stroke-width="7" stroke-linecap="butt"/>
<line x1="693.1" y1="205.1" x2="703.1" y2="206.7" stroke="#646464" stroke-width="5" stroke-linecap="butt"/>
<line x1="693.2" y1="204.1" x2="703.2" y2="205.7" stroke="#8c8c8c" stroke-width="1.8" stroke-linecap="butt"/>
<circle cx="693.3" cy="205.4" r="3.4" fill="#222"/>
<circle cx="693.3" cy="205.4" r="3.4" fill="none" stroke="#555" stroke-width="1.2"/>
<line x1="947" y1="198.7" x2="970" y2="206" stroke="#4b4b4b" stroke-width="7.5" stroke-linecap="butt"/>
<line x1="947.1" y1="198.3" x2="970.1" y2="205.6" stroke="#646464" stroke-width="5.4" stroke-linecap="butt"/>
<line x1="947.4" y1="197.3" x2="970.4" y2="204.6" stroke="#8c8c8c" stroke-width="2" stroke-linecap="butt"/>
<circle cx="947.3" cy="198.7" r="3.6" fill="#222"/>
<circle cx="947.3" cy="198.7" r="3.6" fill="none" stroke="#555" stroke-width="1.3"/>
<line x1="536" y1="273.8" x2="548" y2="275" stroke="#4b4b4b" stroke-width="7" stroke-linecap="butt"/>
<line x1="536" y1="273.5" x2="548" y2="274.7" stroke="#646464" stroke-width="5" stroke-linecap="butt"/>
<line x1="536.1" y1="272.5" x2="548.1" y2="273.7" stroke="#8c8c8c" stroke-width="1.8" stroke-linecap="butt"/>
<circle cx="536.5" cy="273.8" r="3.4" fill="#222"/>
<circle cx="536.5" cy="273.8" r="3.4" fill="none" stroke="#555" stroke-width="1.2"/>
<line x1="1122.5" y1="262.5" x2="1130" y2="264" stroke="#4b4b4b" stroke-width="7" stroke-linecap="butt"/>
<line x1="1122.6" y1="262.2" x2="1130.1" y2="263.7" stroke="#646464" stroke-width="5" stroke-linecap="butt"/>
<line x1="1122.8" y1="261.2" x2="1130.3" y2="262.7" stroke="#8c8c8c" stroke-width="1.8" stroke-linecap="butt"/>
<circle cx="1122.8" cy="262.5" r="3.3" fill="#222"/>
<circle cx="1122.8" cy="262.5" r="3.3" fill="none" stroke="#555" stroke-width="1.2"/>
<line x1="539" y1="509.3" x2="552" y2="508.3" stroke="#4b4b4b" stroke-width="7.5" stroke-linecap="butt"/>
<line x1="539" y1="508.9" x2="552" y2="507.9" stroke="#646464" stroke-width="5.4" stroke-linecap="butt"/>
<line x1="538.9" y1="507.9" x2="551.9" y2="506.9" stroke="#8c8c8c" stroke-width="2" stroke-linecap="butt"/>
<circle cx="539.3" cy="509.3" r="3.5" fill="#222"/>
<circle cx="539.3" cy="509.3" r="3.5" fill="none" stroke="#555" stroke-width="1.2"/>
<line x1="1126" y1="520" x2="1138" y2="518" stroke="#4b4b4b" stroke-width="8" stroke-linecap="butt"/>
<line x1="1125.9" y1="519.6" x2="1137.9" y2="517.6" stroke="#646464" stroke-width="5.8" stroke-linecap="butt"/>
<line x1="1125.8" y1="518.5" x2="1137.8" y2="516.5" stroke="#8c8c8c" stroke-width="2.1" stroke-linecap="butt"/>
<circle cx="1126.3" cy="520" r="3.7" fill="#222"/>
<circle cx="1126.3" cy="520" r="3.7" fill="none" stroke="#555" stroke-width="1.3"/>
<circle cx="1140" cy="264.5" r="3.1" fill="#4a4a4a"/>
<circle cx="1139.4" cy="263.9" r="1.4" fill="#7a7a7a"/>
<ellipse cx="433.4" cy="522.7" rx="17.5" ry="1.3" fill="#777"/>
<ellipse cx="1061.1" cy="534.7" rx="19.9" ry="1.3" fill="#777"/>
<line x1="435" y1="267.3" x2="435" y2="521.5" stroke="#878787" stroke-width="9.2" stroke-linecap="butt"/>
<line x1="434.5" y1="267.3" x2="434.5" y2="521.5" stroke="#b3b3b3" stroke-width="6.6" stroke-linecap="butt"/>
<line x1="433.3" y1="267.3" x2="433.3" y2="521.5" stroke="#dedede" stroke-width="2.4" stroke-linecap="butt"/>
<line x1="435" y1="511.9" x2="435" y2="521.5" stroke="#585858" stroke-width="9.7" stroke-linecap="butt"/>
<line x1="434.5" y1="511.9" x2="434.5" y2="521.5" stroke="#707070" stroke-width="7" stroke-linecap="butt"/>
<line x1="433.2" y1="511.9" x2="433.2" y2="521.5" stroke="#8c8c8c" stroke-width="2.5" stroke-linecap="butt"/>
<line x1="1059.5" y1="253.8" x2="1059.5" y2="533.5" stroke="#878787" stroke-width="10.5" stroke-linecap="butt"/>
<line x1="1059" y1="253.8" x2="1059" y2="533.5" stroke="#b3b3b3" stroke-width="7.6" stroke-linecap="butt"/>
<line x1="1057.5" y1="253.8" x2="1057.5" y2="533.5" stroke="#dedede" stroke-width="2.7" stroke-linecap="butt"/>
<line x1="1059.5" y1="523.9" x2="1059.5" y2="533.5" stroke="#585858" stroke-width="11" stroke-linecap="butt"/>
<line x1="1058.9" y1="523.9" x2="1058.9" y2="533.5" stroke="#707070" stroke-width="7.9" stroke-linecap="butt"/>
<line x1="1057.4" y1="523.9" x2="1057.4" y2="533.5" stroke="#8c8c8c" stroke-width="2.9" stroke-linecap="butt"/>
<line x1="440.9" y1="260" x2="720.2" y2="138.8" stroke="#5e5e5e" stroke-width="10" stroke-linecap="butt"/>
<line x1="440.7" y1="259.5" x2="720" y2="138.4" stroke="#7f7f7f" stroke-width="7.2" stroke-linecap="butt"/>
<line x1="440.1" y1="258.2" x2="719.4" y2="137.1" stroke="#a8a8a8" stroke-width="2.6" stroke-linecap="butt"/>
<line x1="738.1" y1="138.1" x2="1054.2" y2="247.2" stroke="#7e7e7e" stroke-width="10.3" stroke-linecap="butt"/>
<line x1="738.2" y1="137.6" x2="1054.4" y2="246.7" stroke="#adadad" stroke-width="7.4" stroke-linecap="butt"/>
<line x1="738.7" y1="136.3" x2="1054.8" y2="245.3" stroke="#d6d6d6" stroke-width="2.7" stroke-linecap="butt"/>
<line x1="574.7" y1="201.9" x2="618.7" y2="182.8" stroke="#4b4b4b" stroke-width="10.4" stroke-linecap="butt"/>
<line x1="574.5" y1="201.4" x2="618.5" y2="182.3" stroke="#646464" stroke-width="7.5" stroke-linecap="butt"/>
<line x1="573.9" y1="200.1" x2="617.9" y2="181" stroke="#8c8c8c" stroke-width="2.7" stroke-linecap="butt"/>
<line x1="862.3" y1="181" x2="903.2" y2="195.1" stroke="#4b4b4b" stroke-width="10.7" stroke-linecap="butt"/>
<line x1="862.5" y1="180.5" x2="903.3" y2="194.6" stroke="#646464" stroke-width="7.7" stroke-linecap="butt"/>
<line x1="863" y1="179.1" x2="903.8" y2="193.2" stroke="#8c8c8c" stroke-width="2.8" stroke-linecap="butt"/>
<path d="M699.6 147.7 L720.9 138.5 Q729 135 737.3 137.9 L757.7 144.9" fill="none" stroke="#4b4b4b" stroke-width="10.5" stroke-linejoin="round"/>
<path d="M699.6 147.7 L720.9 138.5 Q729 135 737.3 137.9 L757.7 144.9" fill="none" stroke="#646464" stroke-width="6.3" stroke-linejoin="round"/>
<path d="M699.6 147.7 L720.9 138.5 Q729 135 737.3 137.9 L757.7 144.9" fill="none" stroke="#8c8c8c" stroke-width="2.1" stroke-linejoin="round" transform="translate(-0.8,-0.8)"/>
<line x1="435" y1="268.9" x2="435" y2="290" stroke="#686868" stroke-width="9.4" stroke-linecap="butt"/>
<line x1="434.5" y1="268.9" x2="434.5" y2="290" stroke="#909090" stroke-width="6.8" stroke-linecap="butt"/>
<line x1="433.2" y1="268.9" x2="433.2" y2="290" stroke="#bababa" stroke-width="2.4" stroke-linecap="butt"/>
<path d="M435 272.9 L435 269.7 Q435 262.5 441.6 259.6 L455.6 253.6" fill="none" stroke="#4c4c4c" stroke-width="10.2" stroke-linejoin="round"/>
<path d="M435 272.9 L435 269.7 Q435 262.5 441.6 259.6 L455.6 253.6" fill="none" stroke="#646464" stroke-width="6.1" stroke-linejoin="round"/>
<path d="M435 272.9 L435 269.7 Q435 262.5 441.6 259.6 L455.6 253.6" fill="none" stroke="#909090" stroke-width="2" stroke-linejoin="round" transform="translate(-0.8,-0.8)"/>
<path d="M1059.5 280 L1059.5 255 Q1059.5 249 1053.8 247 L1032.3 239.6" fill="none" stroke="#646464" stroke-width="10.5" stroke-linejoin="round"/>
<path d="M1059.5 280 L1059.5 255 Q1059.5 249 1053.8 247 L1032.3 239.6" fill="none" stroke="#8c8c8c" stroke-width="6.3" stroke-linejoin="round"/>
<path d="M1059.5 280 L1059.5 255 Q1059.5 249 1053.8 247 L1032.3 239.6" fill="none" stroke="#b6b6b6" stroke-width="2.1" stroke-linejoin="round" transform="translate(-0.8,-0.8)"/>
<line x1="601.5" y1="197.2" x2="880.3" y2="190.7" stroke="#747474" stroke-width="4.1" stroke-linecap="butt"/>
<line x1="601.5" y1="197" x2="880.3" y2="190.5" stroke="#a8a8a8" stroke-width="2.9" stroke-linecap="butt"/>
<line x1="601.5" y1="196.4" x2="880.3" y2="189.9" stroke="#d4d4d4" stroke-width="1.1" stroke-linecap="butt"/>
<line x1="735" y1="145.4" x2="735" y2="194.1" stroke="#747474" stroke-width="4.3" stroke-linecap="butt"/>
<line x1="734.8" y1="145.4" x2="734.8" y2="194.1" stroke="#a8a8a8" stroke-width="3.1" stroke-linecap="butt"/>
<line x1="734.2" y1="145.4" x2="734.2" y2="194.1" stroke="#d4d4d4" stroke-width="1.1" stroke-linecap="butt"/>
<line x1="705.8" y1="147.8" x2="751.4" y2="147.4" stroke="#747474" stroke-width="2.4" stroke-linecap="butt"/>
<line x1="705.8" y1="147.8" x2="751.4" y2="147.4" stroke="#a8a8a8" stroke-width="1.3" stroke-linecap="butt"/>
<line x1="439" y1="265" x2="450" y2="266" stroke="#646464" stroke-width="6" stroke-linecap="butt"/>
<line x1="439" y1="264.7" x2="450" y2="265.7" stroke="#878787" stroke-width="4.3" stroke-linecap="butt"/>
<line x1="439.1" y1="263.9" x2="450.1" y2="264.9" stroke="#b0b0b0" stroke-width="1.6" stroke-linecap="butt"/>
<circle cx="450.5" cy="266" r="3.2" fill="#4a4a4a"/>
<circle cx="449.9" cy="265.4" r="1.4" fill="#7a7a7a"/>
<line x1="1063.5" y1="251.5" x2="1067" y2="253" stroke="#646464" stroke-width="6.5" stroke-linecap="butt"/>
<line x1="1063.6" y1="251.2" x2="1067.1" y2="252.7" stroke="#878787" stroke-width="4.7" stroke-linecap="butt"/>
<line x1="1064" y1="250.4" x2="1067.5" y2="251.9" stroke="#b0b0b0" stroke-width="1.7" stroke-linecap="butt"/>
<circle cx="1067.5" cy="253" r="3.3" fill="#4a4a4a"/>
<circle cx="1066.8" cy="252.3" r="1.5" fill="#7a7a7a"/>
<line x1="600.7" y1="193.4" x2="615" y2="194" stroke="#646464" stroke-width="6" stroke-linecap="butt"/>
<line x1="600.7" y1="193.1" x2="615" y2="193.7" stroke="#878787" stroke-width="4.3" stroke-linecap="butt"/>
<line x1="600.7" y1="192.2" x2="615" y2="192.9" stroke="#b0b0b0" stroke-width="1.6" stroke-linecap="butt"/>
<circle cx="615" cy="194" r="3" fill="#4a4a4a"/>
<circle cx="614.4" cy="193.4" r="1.4" fill="#7a7a7a"/>
<line x1="305" y1="254.2" x2="430.4" y2="263.7" stroke="#6c6c6c" stroke-width="7.4" stroke-linecap="butt"/>
<line x1="305" y1="253.8" x2="430.4" y2="263.3" stroke="#989898" stroke-width="5.3" stroke-linecap="butt"/>
<line x1="305.1" y1="252.8" x2="430.5" y2="262.3" stroke="#c4c4c4" stroke-width="1.9" stroke-linecap="butt"/>
<line x1="981" y1="239" x2="1054.2" y2="249.8" stroke="#646464" stroke-width="7.9" stroke-linecap="butt"/>
<line x1="981.1" y1="238.6" x2="1054.3" y2="249.4" stroke="#878787" stroke-width="5.7" stroke-linecap="butt"/>
<line x1="981.2" y1="237.5" x2="1054.5" y2="248.3" stroke="#b0b0b0" stroke-width="2.1" stroke-linecap="butt"/>
<line x1="480" y1="174.4" x2="596.7" y2="193.2" stroke="#646464" stroke-width="6.8" stroke-linecap="butt"/>
<line x1="480.1" y1="174.1" x2="596.8" y2="192.8" stroke="#878787" stroke-width="4.9" stroke-linecap="butt"/>
<line x1="480.2" y1="173.2" x2="596.9" y2="191.9" stroke="#b0b0b0" stroke-width="1.8" stroke-linecap="butt"/>
<line x1="781.9" y1="168.4" x2="863.2" y2="184.3" stroke="#646464" stroke-width="8.6" stroke-linecap="butt"/>
<line x1="781.9" y1="168" x2="863.3" y2="183.9" stroke="#878787" stroke-width="6.2" stroke-linecap="butt"/>
<line x1="782.2" y1="166.8" x2="863.5" y2="182.7" stroke="#b0b0b0" stroke-width="2.2" stroke-linecap="butt"/>
<line x1="630.5" y1="112.6" x2="726.6" y2="135" stroke="#646464" stroke-width="8.2" stroke-linecap="butt"/>
<line x1="630.6" y1="112.2" x2="726.7" y2="134.6" stroke="#878787" stroke-width="5.9" stroke-linecap="butt"/>
<line x1="630.9" y1="111.1" x2="727" y2="133.5" stroke="#b0b0b0" stroke-width="2.1" stroke-linecap="butt"/>
<line x1="302" y1="527.5" x2="435" y2="517.5" stroke="#636363" stroke-width="7.6" stroke-linecap="butt"/>
<line x1="302" y1="527.1" x2="435" y2="517.1" stroke="#909090" stroke-width="5.5" stroke-linecap="butt"/>
<line x1="301.9" y1="526.1" x2="434.9" y2="516.1" stroke="#c2c2c2" stroke-width="2" stroke-linecap="butt"/>
<line x1="302" y1="527.5" x2="314.6" y2="526.5" stroke="#585858" stroke-width="8.3" stroke-linecap="butt"/>
<line x1="302" y1="527.1" x2="314.6" y2="526.1" stroke="#707070" stroke-width="5.9" stroke-linecap="butt"/>
<line x1="301.9" y1="525.9" x2="314.5" y2="525" stroke="#8c8c8c" stroke-width="2.1" stroke-linecap="butt"/>
<line x1="423.2" y1="518.4" x2="435" y2="517.5" stroke="#585858" stroke-width="8.3" stroke-linecap="butt"/>
<line x1="423.2" y1="518" x2="435" y2="517.1" stroke="#707070" stroke-width="5.9" stroke-linecap="butt"/>
<line x1="423.1" y1="516.8" x2="434.9" y2="515.9" stroke="#8c8c8c" stroke-width="2.1" stroke-linecap="butt"/>
<line x1="972.5" y1="543.5" x2="1059.5" y2="529.5" stroke="#636363" stroke-width="7.9" stroke-linecap="butt"/>
<line x1="972.4" y1="543.1" x2="1059.4" y2="529.1" stroke="#909090" stroke-width="5.7" stroke-linecap="butt"/>
<line x1="972.3" y1="542" x2="1059.3" y2="528" stroke="#c2c2c2" stroke-width="2.1" stroke-linecap="butt"/>
<line x1="972.5" y1="543.5" x2="985" y2="541.5" stroke="#585858" stroke-width="8.6" stroke-linecap="butt"/>
<line x1="972.4" y1="543.1" x2="985" y2="541.1" stroke="#707070" stroke-width="6.2" stroke-linecap="butt"/>
<line x1="972.2" y1="541.9" x2="984.8" y2="539.9" stroke="#8c8c8c" stroke-width="2.2" stroke-linecap="butt"/>
<line x1="1047.8" y1="531.4" x2="1059.5" y2="529.5" stroke="#585858" stroke-width="8.6" stroke-linecap="butt"/>
<line x1="1047.8" y1="531" x2="1059.4" y2="529.1" stroke="#707070" stroke-width="6.2" stroke-linecap="butt"/>
<line x1="1047.6" y1="529.8" x2="1059.2" y2="527.9" stroke="#8c8c8c" stroke-width="2.2" stroke-linecap="butt"/>
<circle cx="1068" cy="251.4" r="2.9" fill="#4a4a4a"/>
<circle cx="1067.4" cy="250.8" r="1.3" fill="#7a7a7a"/>
<ellipse cx="298.2" cy="533.2" rx="19" ry="1.4" fill="#777"/>
<ellipse cx="974.3" cy="549.2" rx="20.9" ry="1.4" fill="#777"/>
<line x1="300" y1="255.8" x2="300" y2="531.9" stroke="#878787" stroke-width="10" stroke-linecap="butt"/>
<line x1="299.5" y1="255.8" x2="299.5" y2="531.9" stroke="#b3b3b3" stroke-width="7.2" stroke-linecap="butt"/>
<line x1="298.1" y1="255.8" x2="298.1" y2="531.9" stroke="#dedede" stroke-width="2.6" stroke-linecap="butt"/>
<line x1="300" y1="521.3" x2="300" y2="531.9" stroke="#585858" stroke-width="10.5" stroke-linecap="butt"/>
<line x1="299.5" y1="521.3" x2="299.5" y2="531.9" stroke="#707070" stroke-width="7.6" stroke-linecap="butt"/>
<line x1="298" y1="521.3" x2="298" y2="531.9" stroke="#8c8c8c" stroke-width="2.7" stroke-linecap="butt"/>
<line x1="972.5" y1="241.3" x2="972.5" y2="547.9" stroke="#878787" stroke-width="11" stroke-linecap="butt"/>
<line x1="972" y1="241.3" x2="972" y2="547.9" stroke="#b3b3b3" stroke-width="7.9" stroke-linecap="butt"/>
<line x1="970.4" y1="241.3" x2="970.4" y2="547.9" stroke="#dedede" stroke-width="2.9" stroke-linecap="butt"/>
<line x1="972.5" y1="537.3" x2="972.5" y2="547.9" stroke="#585858" stroke-width="11.6" stroke-linecap="butt"/>
<line x1="971.9" y1="537.3" x2="971.9" y2="547.9" stroke="#707070" stroke-width="8.3" stroke-linecap="butt"/>
<line x1="970.3" y1="537.3" x2="970.3" y2="547.9" stroke="#8c8c8c" stroke-width="3" stroke-linecap="butt"/>
<line x1="306.4" y1="247.6" x2="604.9" y2="113.3" stroke="#5e5e5e" stroke-width="10" stroke-linecap="butt"/>
<line x1="306.2" y1="247.2" x2="604.7" y2="112.9" stroke="#7f7f7f" stroke-width="7.2" stroke-linecap="butt"/>
<line x1="305.6" y1="245.9" x2="604.1" y2="111.6" stroke="#a8a8a8" stroke-width="2.6" stroke-linecap="butt"/>
<line x1="624.5" y1="112.5" x2="966.7" y2="233.9" stroke="#7e7e7e" stroke-width="11" stroke-linecap="butt"/>
<line x1="624.6" y1="112" x2="966.9" y2="233.4" stroke="#adadad" stroke-width="7.9" stroke-linecap="butt"/>
<line x1="625.2" y1="110.6" x2="967.4" y2="232" stroke="#d6d6d6" stroke-width="2.9" stroke-linecap="butt"/>
<line x1="448.9" y1="183.5" x2="497.1" y2="161.8" stroke="#4b4b4b" stroke-width="10.4" stroke-linecap="butt"/>
<line x1="448.7" y1="183" x2="496.8" y2="161.4" stroke="#646464" stroke-width="7.5" stroke-linecap="butt"/>
<line x1="448.1" y1="181.7" x2="496.2" y2="160" stroke="#8c8c8c" stroke-width="2.7" stroke-linecap="butt"/>
<line x1="758.6" y1="160.1" x2="803.4" y2="176" stroke="#4b4b4b" stroke-width="11.4" stroke-linecap="butt"/>
<line x1="758.8" y1="159.6" x2="803.6" y2="175.5" stroke="#646464" stroke-width="8.2" stroke-linecap="butt"/>
<line x1="759.4" y1="158.1" x2="804.2" y2="174" stroke="#8c8c8c" stroke-width="3" stroke-linecap="butt"/>
<path d="M582.4 123.4 L605.7 113 Q614.5 109 623.6 112.2 L646 120.2" fill="none" stroke="#4b4b4b" stroke-width="10.5" stroke-linejoin="round"/>
<path d="M582.4 123.4 L605.7 113 Q614.5 109 623.6 112.2 L646 120.2" fill="none" stroke="#646464" stroke-width="6.3" stroke-linejoin="round"/>
<path d="M582.4 123.4 L605.7 113 Q614.5 109 623.6 112.2 L646 120.2" fill="none" stroke="#8c8c8c" stroke-width="2.1" stroke-linejoin="round" transform="translate(-0.8,-0.8)"/>
<line x1="300" y1="257.5" x2="300" y2="281" stroke="#686868" stroke-width="10.2" stroke-linecap="butt"/>
<line x1="299.5" y1="257.5" x2="299.5" y2="281" stroke="#909090" stroke-width="7.3" stroke-linecap="butt"/>
<line x1="298.1" y1="257.5" x2="298.1" y2="281" stroke="#bababa" stroke-width="2.7" stroke-linecap="butt"/>
<path d="M300 261.9 L300 258.4 Q300 250.5 307.2 247.3 L322.5 240.4" fill="none" stroke="#4c4c4c" stroke-width="10.2" stroke-linejoin="round"/>
<path d="M300 261.9 L300 258.4 Q300 250.5 307.2 247.3 L322.5 240.4" fill="none" stroke="#646464" stroke-width="6.1" stroke-linejoin="round"/>
<path d="M300 261.9 L300 258.4 Q300 250.5 307.2 247.3 L322.5 240.4" fill="none" stroke="#909090" stroke-width="2" stroke-linejoin="round" transform="translate(-0.8,-0.8)"/>
<path d="M972.5 267.5 L972.5 242.6 Q972.5 236 966.3 233.8 L942.6 225.4" fill="none" stroke="#646464" stroke-width="11" stroke-linejoin="round"/>
<path d="M972.5 267.5 L972.5 242.6 Q972.5 236 966.3 233.8 L942.6 225.4" fill="none" stroke="#8c8c8c" stroke-width="6.6" stroke-linejoin="round"/>
<path d="M972.5 267.5 L972.5 242.6 Q972.5 236 966.3 233.8 L942.6 225.4" fill="none" stroke="#b6b6b6" stroke-width="2.2" stroke-linejoin="round" transform="translate(-0.9,-0.9)"/>
<line x1="478.3" y1="178" x2="778.3" y2="171" stroke="#747474" stroke-width="4.3" stroke-linecap="butt"/>
<line x1="478.3" y1="177.7" x2="778.3" y2="170.8" stroke="#a8a8a8" stroke-width="3.1" stroke-linecap="butt"/>
<line x1="478.2" y1="177.1" x2="778.3" y2="170.2" stroke="#d4d4d4" stroke-width="1.1" stroke-linecap="butt"/>
<line x1="622" y1="120.4" x2="622" y2="174.6" stroke="#747474" stroke-width="4.6" stroke-linecap="butt"/>
<line x1="621.8" y1="120.4" x2="621.8" y2="174.6" stroke="#a8a8a8" stroke-width="3.3" stroke-linecap="butt"/>
<line x1="621.1" y1="120.4" x2="621.1" y2="174.6" stroke="#d4d4d4" stroke-width="1.2" stroke-linecap="butt"/>
<line x1="589" y1="123.1" x2="639.1" y2="122.6" stroke="#747474" stroke-width="2.6" stroke-linecap="butt"/>
<line x1="589" y1="123.1" x2="639.1" y2="122.6" stroke="#a8a8a8" stroke-width="1.5" stroke-linecap="butt"/>
<line x1="143.8" y1="238.6" x2="295" y2="251.8" stroke="#6c6c6c" stroke-width="7.4" stroke-linecap="butt"/>
<line x1="143.9" y1="238.2" x2="295" y2="251.5" stroke="#989898" stroke-width="5.3" stroke-linecap="butt"/>
<line x1="144" y1="237.2" x2="295.1" y2="250.4" stroke="#c4c4c4" stroke-width="1.9" stroke-linecap="butt"/>
<line x1="875.5" y1="221.9" x2="967" y2="236.9" stroke="#646464" stroke-width="7.9" stroke-linecap="butt"/>
<line x1="875.6" y1="221.5" x2="967.1" y2="236.5" stroke="#878787" stroke-width="5.7" stroke-linecap="butt"/>
<line x1="875.7" y1="220.4" x2="967.2" y2="235.4" stroke="#b0b0b0" stroke-width="2.1" stroke-linecap="butt"/>
<line x1="335.2" y1="149.6" x2="473" y2="173.6" stroke="#646464" stroke-width="7.2" stroke-linecap="butt"/>
<line x1="335.3" y1="149.3" x2="473" y2="173.2" stroke="#878787" stroke-width="5.2" stroke-linecap="butt"/>
<line x1="335.4" y1="148.3" x2="473.2" y2="172.2" stroke="#b0b0b0" stroke-width="1.9" stroke-linecap="butt"/>
<line x1="661.5" y1="142.9" x2="757.8" y2="163.3" stroke="#646464" stroke-width="9" stroke-linecap="butt"/>
<line x1="661.6" y1="142.5" x2="757.9" y2="162.8" stroke="#878787" stroke-width="6.5" stroke-linecap="butt"/>
<line x1="661.9" y1="141.3" x2="758.2" y2="161.6" stroke="#b0b0b0" stroke-width="2.3" stroke-linecap="butt"/>
<line x1="500.6" y1="81.1" x2="611.9" y2="109" stroke="#646464" stroke-width="8.6" stroke-linecap="butt"/>
<line x1="500.7" y1="80.7" x2="612" y2="108.6" stroke="#878787" stroke-width="6.2" stroke-linecap="butt"/>
<line x1="500.9" y1="79.5" x2="612.3" y2="107.4" stroke="#b0b0b0" stroke-width="2.2" stroke-linecap="butt"/>
<line x1="140" y1="538" x2="300" y2="527.5" stroke="#636363" stroke-width="8.4" stroke-linecap="butt"/>
<line x1="140" y1="537.6" x2="300" y2="527.1" stroke="#909090" stroke-width="6" stroke-linecap="butt"/>
<line x1="139.9" y1="536.4" x2="299.9" y2="525.9" stroke="#c2c2c2" stroke-width="2.2" stroke-linecap="butt"/>
<line x1="140" y1="538" x2="154" y2="537.1" stroke="#585858" stroke-width="9" stroke-linecap="butt"/>
<line x1="140" y1="537.5" x2="153.9" y2="536.6" stroke="#707070" stroke-width="6.5" stroke-linecap="butt"/>
<line x1="139.9" y1="536.3" x2="153.9" y2="535.4" stroke="#8c8c8c" stroke-width="2.3" stroke-linecap="butt"/>
<line x1="287.3" y1="528.3" x2="300" y2="527.5" stroke="#585858" stroke-width="9" stroke-linecap="butt"/>
<line x1="287.3" y1="527.9" x2="300" y2="527" stroke="#707070" stroke-width="6.5" stroke-linecap="butt"/>
<line x1="287.2" y1="526.6" x2="299.9" y2="525.8" stroke="#8c8c8c" stroke-width="2.3" stroke-linecap="butt"/>
<line x1="866" y1="557.5" x2="972.5" y2="543.5" stroke="#636363" stroke-width="8.7" stroke-linecap="butt"/>
<line x1="865.9" y1="557.1" x2="972.4" y2="543.1" stroke="#909090" stroke-width="6.3" stroke-linecap="butt"/>
<line x1="865.8" y1="555.9" x2="972.3" y2="541.9" stroke="#c2c2c2" stroke-width="2.3" stroke-linecap="butt"/>
<line x1="866" y1="557.5" x2="879.9" y2="555.7" stroke="#585858" stroke-width="9.4" stroke-linecap="butt"/>
<line x1="865.9" y1="557" x2="879.8" y2="555.2" stroke="#707070" stroke-width="6.8" stroke-linecap="butt"/>
<line x1="865.8" y1="555.7" x2="879.6" y2="553.9" stroke="#8c8c8c" stroke-width="2.4" stroke-linecap="butt"/>
<line x1="959.9" y1="545.2" x2="972.5" y2="543.5" stroke="#585858" stroke-width="9.4" stroke-linecap="butt"/>
<line x1="959.9" y1="544.7" x2="972.4" y2="543" stroke="#707070" stroke-width="6.8" stroke-linecap="butt"/>
<line x1="959.7" y1="543.4" x2="972.3" y2="541.7" stroke="#8c8c8c" stroke-width="2.4" stroke-linecap="butt"/>
<circle cx="981.5" cy="238.6" r="3.1" fill="#4a4a4a"/>
<circle cx="980.9" cy="238" r="1.4" fill="#7a7a7a"/>
<ellipse cx="136" cy="544.5" rx="22.2" ry="1.6" fill="#777"/>
<ellipse cx="868" cy="564" rx="24.7" ry="1.6" fill="#777"/>
<line x1="138" y1="240.4" x2="138" y2="543" stroke="#878787" stroke-width="11.7" stroke-linecap="butt"/>
<line x1="137.4" y1="240.4" x2="137.4" y2="543" stroke="#b3b3b3" stroke-width="8.4" stroke-linecap="butt"/>
<line x1="135.8" y1="240.4" x2="135.8" y2="543" stroke="#dedede" stroke-width="3" stroke-linecap="butt"/>
<line x1="138" y1="531" x2="138" y2="543" stroke="#585858" stroke-width="12.3" stroke-linecap="butt"/>
<line x1="137.4" y1="531" x2="137.4" y2="543" stroke="#707070" stroke-width="8.8" stroke-linecap="butt"/>
<line x1="135.7" y1="531" x2="135.7" y2="543" stroke="#8c8c8c" stroke-width="3.2" stroke-linecap="butt"/>
<line x1="866" y1="224.5" x2="866" y2="562.5" stroke="#878787" stroke-width="13" stroke-linecap="butt"/>
<line x1="865.4" y1="224.5" x2="865.4" y2="562.5" stroke="#b3b3b3" stroke-width="9.4" stroke-linecap="butt"/>
<line x1="863.5" y1="224.5" x2="863.5" y2="562.5" stroke="#dedede" stroke-width="3.4" stroke-linecap="butt"/>
<line x1="866" y1="550.5" x2="866" y2="562.5" stroke="#585858" stroke-width="13.7" stroke-linecap="butt"/>
<line x1="865.3" y1="550.5" x2="865.3" y2="562.5" stroke="#707070" stroke-width="9.8" stroke-linecap="butt"/>
<line x1="863.4" y1="550.5" x2="863.4" y2="562.5" stroke="#8c8c8c" stroke-width="3.5" stroke-linecap="butt"/>
<line x1="145.3" y1="231.1" x2="471.1" y2="81.6" stroke="#5e5e5e" stroke-width="10" stroke-linecap="butt"/>
<line x1="145.1" y1="230.6" x2="470.9" y2="81.1" stroke="#7f7f7f" stroke-width="7.2" stroke-linecap="butt"/>
<line x1="144.5" y1="229.3" x2="470.3" y2="79.9" stroke="#a8a8a8" stroke-width="2.6" stroke-linecap="butt"/>
<line x1="493.3" y1="80.8" x2="859.4" y2="216.1" stroke="#7e7e7e" stroke-width="12.2" stroke-linecap="butt"/>
<line x1="493.5" y1="80.2" x2="859.6" y2="215.5" stroke="#adadad" stroke-width="8.8" stroke-linecap="butt"/>
<line x1="494.1" y1="78.6" x2="860.2" y2="213.9" stroke="#d6d6d6" stroke-width="3.2" stroke-linecap="butt"/>
<line x1="299.9" y1="160.1" x2="354.5" y2="135.1" stroke="#4b4b4b" stroke-width="10.4" stroke-linecap="butt"/>
<line x1="299.7" y1="159.6" x2="354.3" y2="134.6" stroke="#646464" stroke-width="7.5" stroke-linecap="butt"/>
<line x1="299.1" y1="158.3" x2="353.6" y2="133.3" stroke="#8c8c8c" stroke-width="2.7" stroke-linecap="butt"/>
<line x1="609" y1="123.5" x2="670.9" y2="146.4" stroke="#4b4b4b" stroke-width="12.7" stroke-linecap="butt"/>
<line x1="609.2" y1="122.9" x2="671.1" y2="145.8" stroke="#646464" stroke-width="9.1" stroke-linecap="butt"/>
<line x1="609.8" y1="121.3" x2="671.7" y2="144.1" stroke="#8c8c8c" stroke-width="3.3" stroke-linecap="butt"/>
<path d="M445.6 93.3 L472 81.2 Q482 76.6 492.3 80.4 L517.6 89.8" fill="none" stroke="#4b4b4b" stroke-width="10.5" stroke-linejoin="round"/>
<path d="M445.6 93.3 L472 81.2 Q482 76.6 492.3 80.4 L517.6 89.8" fill="none" stroke="#646464" stroke-width="6.3" stroke-linejoin="round"/>
<path d="M445.6 93.3 L472 81.2 Q482 76.6 492.3 80.4 L517.6 89.8" fill="none" stroke="#8c8c8c" stroke-width="2.1" stroke-linejoin="round" transform="translate(-0.8,-0.8)"/>
<line x1="138" y1="242.4" x2="138" y2="269" stroke="#686868" stroke-width="11.9" stroke-linecap="butt"/>
<line x1="137.4" y1="242.4" x2="137.4" y2="269" stroke="#909090" stroke-width="8.6" stroke-linecap="butt"/>
<line x1="135.7" y1="242.4" x2="135.7" y2="269" stroke="#bababa" stroke-width="3.1" stroke-linecap="butt"/>
<path d="M138 247.4 L138 243.4 Q138 234.4 146.2 230.6 L163.5 222.7" fill="none" stroke="#4c4c4c" stroke-width="11.9" stroke-linejoin="round"/>
<path d="M138 247.4 L138 243.4 Q138 234.4 146.2 230.6 L163.5 222.7" fill="none" stroke="#646464" stroke-width="7.2" stroke-linejoin="round"/>
<path d="M138 247.4 L138 243.4 Q138 234.4 146.2 230.6 L163.5 222.7" fill="none" stroke="#909090" stroke-width="2.4" stroke-linejoin="round" transform="translate(-1,-1)"/>
<path d="M866 258 L866 226 Q866 218.5 859 215.9 L832.2 206" fill="none" stroke="#646464" stroke-width="13" stroke-linejoin="round"/>
<path d="M866 258 L866 226 Q866 218.5 859 215.9 L832.2 206" fill="none" stroke="#8c8c8c" stroke-width="7.8" stroke-linejoin="round"/>
<path d="M866 258 L866 226 Q866 218.5 859 215.9 L832.2 206" fill="none" stroke="#b6b6b6" stroke-width="2.6" stroke-linejoin="round" transform="translate(-1,-1)"/>
<line x1="333.2" y1="153.6" x2="657.5" y2="145.9" stroke="#747474" stroke-width="4.7" stroke-linecap="butt"/>
<line x1="333.2" y1="153.4" x2="657.5" y2="145.7" stroke="#a8a8a8" stroke-width="3.4" stroke-linecap="butt"/>
<line x1="333.2" y1="152.7" x2="657.5" y2="145" stroke="#d4d4d4" stroke-width="1.2" stroke-linecap="butt"/>
<line x1="483.8" y1="89.6" x2="483.8" y2="150" stroke="#747474" stroke-width="5" stroke-linecap="butt"/>
<line x1="483.6" y1="89.6" x2="483.6" y2="150" stroke="#a8a8a8" stroke-width="3.6" stroke-linecap="butt"/>
<line x1="482.9" y1="89.6" x2="482.9" y2="150" stroke="#d4d4d4" stroke-width="1.3" stroke-linecap="butt"/>
<line x1="453" y1="92.6" x2="510" y2="92.1" stroke="#747474" stroke-width="3" stroke-linecap="butt"/>
<line x1="453" y1="92.5" x2="510" y2="92" stroke="#a8a8a8" stroke-width="2.2" stroke-linecap="butt"/>
<line x1="453" y1="92" x2="510" y2="91.5" stroke="#d4d4d4" stroke-width="0.8" stroke-linecap="butt"/>
<circle cx="877.5" cy="221" r="3.6" fill="#4a4a4a"/>
<circle cx="876.8" cy="220.3" r="1.6" fill="#7a7a7a"/>
<line x1="140" y1="542.9" x2="306" y2="546.4" stroke="#636363" stroke-width="7.5" stroke-linecap="butt"/>
<line x1="140" y1="542.5" x2="306" y2="546" stroke="#909090" stroke-width="5.4" stroke-linecap="butt"/>
<line x1="140" y1="541.5" x2="306" y2="545" stroke="#c2c2c2" stroke-width="2" stroke-linecap="butt"/>
<line x1="143" y1="543" x2="158" y2="543.3" stroke="#585858" stroke-width="8" stroke-linecap="butt"/>
<line x1="143" y1="542.6" x2="158" y2="542.9" stroke="#707070" stroke-width="5.8" stroke-linecap="butt"/>
<line x1="143" y1="541.5" x2="158" y2="541.8" stroke="#8c8c8c" stroke-width="2.1" stroke-linecap="butt"/>
<line x1="286" y1="546" x2="306" y2="546.4" stroke="#585858" stroke-width="8" stroke-linecap="butt"/>
<line x1="286" y1="545.6" x2="306" y2="546" stroke="#707070" stroke-width="5.8" stroke-linecap="butt"/>
<line x1="286" y1="544.5" x2="306" y2="544.9" stroke="#8c8c8c" stroke-width="2.1" stroke-linecap="butt"/>
<line x1="666" y1="553.3" x2="852" y2="558.5" stroke="#636363" stroke-width="10" stroke-linecap="butt"/>
<line x1="666" y1="552.8" x2="852" y2="558" stroke="#909090" stroke-width="7.2" stroke-linecap="butt"/>
<line x1="666.1" y1="551.4" x2="852.1" y2="556.6" stroke="#c2c2c2" stroke-width="2.6" stroke-linecap="butt"/>
<line x1="666" y1="553.3" x2="690" y2="554" stroke="#585858" stroke-width="10.5" stroke-linecap="butt"/>
<line x1="666" y1="552.8" x2="690" y2="553.5" stroke="#707070" stroke-width="7.6" stroke-linecap="butt"/>
<line x1="666.1" y1="551.3" x2="690.1" y2="552" stroke="#8c8c8c" stroke-width="2.7" stroke-linecap="butt"/>
<line x1="830" y1="558" x2="852" y2="558.5" stroke="#585858" stroke-width="10.5" stroke-linecap="butt"/>
<line x1="830" y1="557.5" x2="852" y2="558" stroke="#707070" stroke-width="7.6" stroke-linecap="butt"/>
<line x1="830" y1="556" x2="852" y2="556.5" stroke="#8c8c8c" stroke-width="2.7" stroke-linecap="butt"/>
<ellipse cx="311" cy="552.5" rx="23.2" ry="1.6" fill="#777"/>
<line x1="314.4" y1="160" x2="314" y2="225" stroke="#878787" stroke-width="10" stroke-linecap="butt"/>
<line x1="313.9" y1="160" x2="313.5" y2="225" stroke="#b3b3b3" stroke-width="7.2" stroke-linecap="butt"/>
<line x1="312.5" y1="160" x2="312.1" y2="225" stroke="#dedede" stroke-width="2.6" stroke-linecap="butt"/>
<line x1="313.8" y1="263" x2="312" y2="551" stroke="#878787" stroke-width="12.2" stroke-linecap="butt"/>
<line x1="313.2" y1="263" x2="311.4" y2="551" stroke="#b3b3b3" stroke-width="8.8" stroke-linecap="butt"/>
<line x1="311.4" y1="263" x2="309.7" y2="551" stroke="#dedede" stroke-width="3.2" stroke-linecap="butt"/>
<line x1="314" y1="224" x2="313.8" y2="264" stroke="#878787" stroke-width="13.4" stroke-linecap="butt"/>
<line x1="313.3" y1="224" x2="313.1" y2="264" stroke="#b3b3b3" stroke-width="9.6" stroke-linecap="butt"/>
<line x1="311.5" y1="224" x2="311.2" y2="264" stroke="#dedede" stroke-width="3.5" stroke-linecap="butt"/>
<line x1="307.3" y1="224" x2="320.7" y2="224" stroke="#8a8a8a" stroke-width="1"/>
<line x1="307.1" y1="264" x2="320.5" y2="264" stroke="#8a8a8a" stroke-width="1"/>
<line x1="312" y1="539" x2="312" y2="551" stroke="#585858" stroke-width="12.8" stroke-linecap="butt"/>
<line x1="311.4" y1="539" x2="311.4" y2="551" stroke="#707070" stroke-width="9.2" stroke-linecap="butt"/>
<line x1="309.6" y1="539" x2="309.6" y2="551" stroke="#8c8c8c" stroke-width="3.3" stroke-linecap="butt"/>
<ellipse cx="659.8" cy="561.1" rx="23.8" ry="1.7" fill="#777"/>
<line x1="662.6" y1="150" x2="662.3" y2="215.6" stroke="#878787" stroke-width="11" stroke-linecap="butt"/>
<line x1="662.1" y1="150" x2="661.8" y2="215.6" stroke="#b3b3b3" stroke-width="7.9" stroke-linecap="butt"/>
<line x1="660.5" y1="150" x2="660.2" y2="215.6" stroke="#dedede" stroke-width="2.9" stroke-linecap="butt"/>
<line x1="662.1" y1="255.4" x2="660.8" y2="559.5" stroke="#878787" stroke-width="12.5" stroke-linecap="butt"/>
<line x1="661.5" y1="255.4" x2="660.2" y2="559.5" stroke="#b3b3b3" stroke-width="9" stroke-linecap="butt"/>
<line x1="659.8" y1="255.4" x2="658.4" y2="559.5" stroke="#dedede" stroke-width="3.2" stroke-linecap="butt"/>
<line x1="662.3" y1="214.6" x2="662.1" y2="256.4" stroke="#878787" stroke-width="13.6" stroke-linecap="butt"/>
<line x1="661.6" y1="214.6" x2="661.5" y2="256.4" stroke="#b3b3b3" stroke-width="9.8" stroke-linecap="butt"/>
<line x1="659.7" y1="214.6" x2="659.5" y2="256.4" stroke="#dedede" stroke-width="3.5" stroke-linecap="butt"/>
<line x1="655.5" y1="214.6" x2="669.1" y2="214.6" stroke="#8a8a8a" stroke-width="1"/>
<line x1="655.3" y1="256.4" x2="668.9" y2="256.4" stroke="#8a8a8a" stroke-width="1"/>
<line x1="660.8" y1="546.1" x2="660.8" y2="559.5" stroke="#585858" stroke-width="13.1" stroke-linecap="butt"/>
<line x1="660.1" y1="546.1" x2="660.1" y2="559.5" stroke="#707070" stroke-width="9.4" stroke-linecap="butt"/>
<line x1="658.3" y1="546.1" x2="658.3" y2="559.5" stroke="#8c8c8c" stroke-width="3.4" stroke-linecap="butt"/>
<line x1="866" y1="262" x2="866" y2="562" stroke="#878787" stroke-width="13" stroke-linecap="butt"/>
<line x1="865.4" y1="262" x2="865.4" y2="562" stroke="#b3b3b3" stroke-width="9.4" stroke-linecap="butt"/>
<line x1="863.5" y1="262" x2="863.5" y2="562" stroke="#dedede" stroke-width="3.4" stroke-linecap="butt"/>
</g>
<g id="dims">
<line x1="266.8" y1="200" x2="266.8" y2="532" stroke="#d20f0f" stroke-width="5"/>
<polygon points="266.8,185 259.3,201 274.3,201" fill="#d20f0f"/>
<polygon points="266.8,547 259.3,531 274.3,531" fill="#d20f0f"/>
<line x1="343.3" y1="532.2" x2="615.5" y2="539.2" stroke="#d20f0f" stroke-width="5"/>
<polygon points="328.8,531.8 344.1,539.5 344.5,524.9" fill="#d20f0f"/>
<polygon points="630,539.6 614.3,546.5 614.7,531.9" fill="#d20f0f"/>
<rect x="220.4" y="346.3" width="87.6" height="39.1" rx="13" ry="13" fill="#ffffff" stroke="#f4f4f4" stroke-width="1" stroke-dasharray="2 3"/>
<text x="266.7" y="372.7" font-size="19.7" fill="#d20f0f" text-anchor="middle">2,47 m</text>
<rect x="434.4" y="516.8" width="90.5" height="37.2" rx="13" ry="13" fill="#ffffff" stroke="#f4f4f4" stroke-width="1" stroke-dasharray="2 3"/>
<text x="479.1" y="541.1" font-size="19.5" fill="#d20f0f" text-anchor="middle">1,95 m</text>
<line x1="60.6" y1="85.5" x2="60.6" y2="536" stroke="#464646" stroke-width="5"/>
<polygon points="60.6,71.5 53.4,86.5 67.8,86.5" fill="#464646"/>
<polygon points="60.6,550 53.4,535 67.8,535" fill="#464646"/>
<rect x="11" y="291" width="99" height="40.5" rx="13" ry="13" fill="#ffffff" stroke="#f4f4f4" stroke-width="1" stroke-dasharray="2 3"/>
<text x="60.5" y="319.6" font-size="23.3" fill="#333333" text-anchor="middle">3,15 m</text>
<line x1="132" y1="605" x2="840" y2="624.6" stroke="#464646" stroke-width="5"/>
<polygon points="118,604.6 132.8,612.3 133.2,597.7" fill="#464646"/>
<polygon points="854,625 838.8,631.9 839.2,617.3" fill="#464646"/>
<rect x="439.9" y="595.8" width="91.4" height="32" fill="#ffffff"/>
<rect x="448.4" y="591.8" width="74.4" height="40" rx="13" ry="13" fill="#ffffff" stroke="#f4f4f4" stroke-width="1" stroke-dasharray="2 3"/>
<text x="485.8" y="619.7" font-size="23.3" fill="#333333" text-anchor="middle">4 m</text>
<line x1="912" y1="621.1" x2="1292.7" y2="551.3" stroke="#464646" stroke-width="5.5"/>
<polygon points="897.7,623.7 914.3,628.3 911.6,613.5" fill="#464646"/>
<polygon points="1307,548.7 1293.1,558.9 1290.4,544.1" fill="#464646"/>
<rect x="1057.8" y="566.7" width="87.1" height="32.6" fill="#ffffff"/>
<rect x="1060.8" y="562.7" width="81.1" height="40.6" rx="13" ry="13" fill="#ffffff" stroke="#f4f4f4" stroke-width="1" stroke-dasharray="2 3"/>
<text x="1101.1" y="590.9" font-size="23.3" fill="#333333" text-anchor="middle">15 m</text>
<line x1="1347.6" y1="303" x2="1347.6" y2="483" stroke="#464646" stroke-width="5.3"/>
<polygon points="1347.6,288 1340.2,304 1355,304" fill="#464646"/>
<polygon points="1347.6,498 1340.2,482 1355,482" fill="#464646"/>
<rect x="1311.1" y="372" width="74.6" height="40" rx="13" ry="13" fill="#ffffff" stroke="#f4f4f4" stroke-width="1" stroke-dasharray="2 3"/>
<text x="1348" y="399.8" font-size="23.3" fill="#333333" text-anchor="middle">2 m</text>
<circle cx="190" cy="207.6" r="16.9" fill="#333333"/>
<text x="190" y="215.2" font-size="21.5" fill="#ffffff" stroke="#ffffff" stroke-width="0.45" text-anchor="middle">1</text>
<circle cx="325" cy="151.8" r="16.9" fill="#333333"/>
<text x="325" y="159.4" font-size="21.5" fill="#ffffff" stroke="#ffffff" stroke-width="0.45" text-anchor="middle">2</text>
<circle cx="482.9" cy="124.6" r="16.9" fill="#333333"/>
<text x="482.9" y="132.2" font-size="21.5" fill="#ffffff" stroke="#ffffff" stroke-width="0.45" text-anchor="middle">3</text>
<circle cx="863.8" cy="249.2" r="16.9" fill="#333333"/>
<text x="863.8" y="256.8" font-size="21.5" fill="#ffffff" stroke="#ffffff" stroke-width="0.45" text-anchor="middle">4</text>
<circle cx="662.2" cy="405.6" r="16.8" fill="#333333"/>
<text x="662.2" y="413.2" font-size="21.5" fill="#ffffff" stroke="#ffffff" stroke-width="0.45" text-anchor="middle">5</text>
<circle cx="753" cy="556.8" r="16.9" fill="#333333"/>
<text x="753" y="564.4" font-size="21.5" fill="#ffffff" stroke="#ffffff" stroke-width="0.45" text-anchor="middle">6</text>
<circle cx="864.2" cy="557.5" r="16.9" fill="#333333"/>
<text x="864.2" y="565.1" font-size="21.5" fill="#ffffff" stroke="#ffffff" stroke-width="0.45" text-anchor="middle">7</text>
</g>
</svg>
</body></html>
